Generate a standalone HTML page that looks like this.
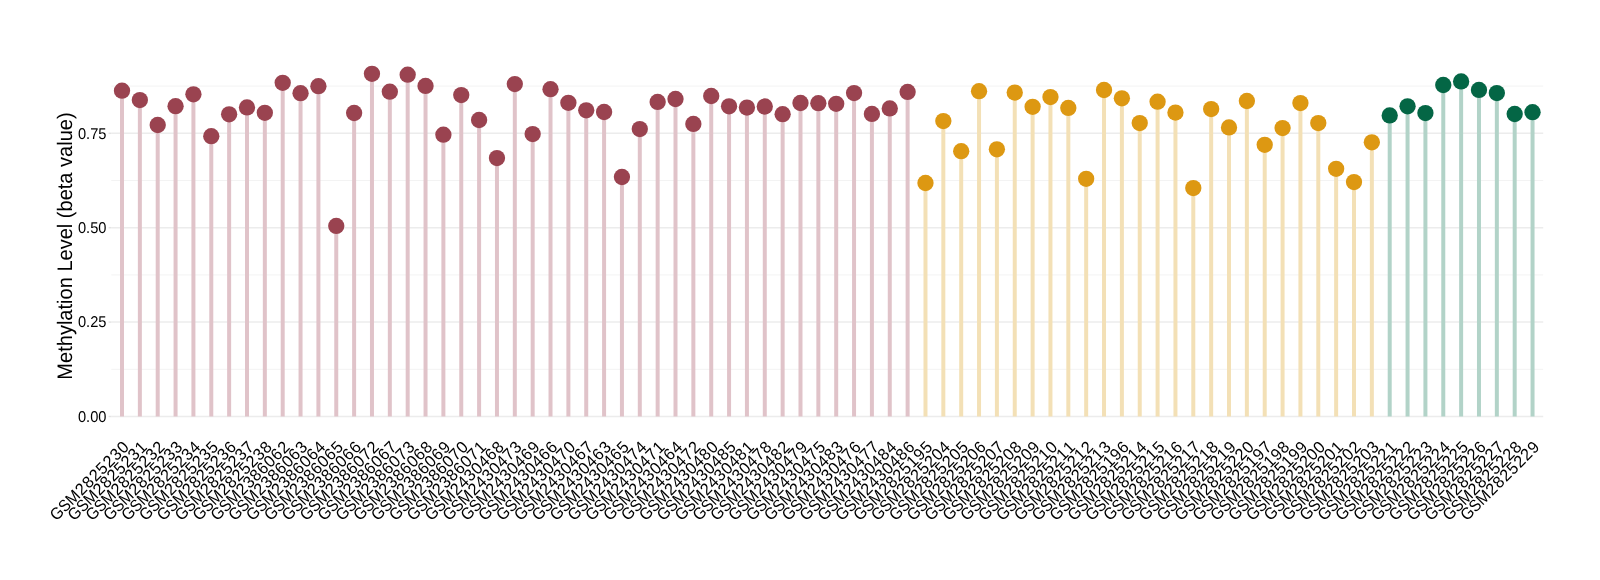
<!DOCTYPE html><html><head><meta charset="utf-8"><style>html,body{margin:0;padding:0;background:#fff;width:1600px;height:580px;overflow:hidden}svg{display:block;will-change:transform}text{font-family:"Liberation Sans",sans-serif;text-rendering:geometricPrecision}</style></head><body>
<svg width="1600" height="580" viewBox="0 0 1600 580">
<rect width="1600" height="580" fill="#fff"/>
<line x1="111.3" x2="1543.2" y1="369.30" y2="369.30" stroke="#f3f3f3" stroke-width="1.0"/>
<line x1="111.3" x2="1543.2" y1="274.90" y2="274.90" stroke="#f3f3f3" stroke-width="1.0"/>
<line x1="111.3" x2="1543.2" y1="180.50" y2="180.50" stroke="#f3f3f3" stroke-width="1.0"/>
<line x1="111.3" x2="1543.2" y1="86.10" y2="86.10" stroke="#f3f3f3" stroke-width="1.0"/>
<line x1="111.3" x2="1543.2" y1="416.50" y2="416.50" stroke="#ececec" stroke-width="1.5"/>
<line x1="108.6" x2="111.3" y1="416.50" y2="416.50" stroke="#e4e4e4" stroke-width="1.5"/>
<text transform="translate(106.5,422.20) scale(0.47,0.5)" font-size="31.2" text-anchor="end" fill="#000">0.00</text>
<line x1="111.3" x2="1543.2" y1="322.10" y2="322.10" stroke="#ececec" stroke-width="1.5"/>
<line x1="108.6" x2="111.3" y1="322.10" y2="322.10" stroke="#e4e4e4" stroke-width="1.5"/>
<text transform="translate(106.5,327.20) scale(0.47,0.5)" font-size="31.2" text-anchor="end" fill="#000">0.25</text>
<line x1="111.3" x2="1543.2" y1="227.70" y2="227.70" stroke="#ececec" stroke-width="1.5"/>
<line x1="108.6" x2="111.3" y1="227.70" y2="227.70" stroke="#e4e4e4" stroke-width="1.5"/>
<text transform="translate(106.5,233.20) scale(0.47,0.5)" font-size="31.2" text-anchor="end" fill="#000">0.50</text>
<line x1="111.3" x2="1543.2" y1="133.30" y2="133.30" stroke="#ececec" stroke-width="1.5"/>
<line x1="108.6" x2="111.3" y1="133.30" y2="133.30" stroke="#e4e4e4" stroke-width="1.5"/>
<text transform="translate(106.5,139.20) scale(0.47,0.5)" font-size="31.2" text-anchor="end" fill="#000">0.75</text>
<line x1="122.00" x2="122.00" y1="416.4" y2="90.70" stroke="#e0c3c9" stroke-width="4.0"/>
<line x1="139.86" x2="139.86" y1="416.4" y2="100.10" stroke="#e0c3c9" stroke-width="4.0"/>
<line x1="157.71" x2="157.71" y1="416.4" y2="125.00" stroke="#e0c3c9" stroke-width="4.0"/>
<line x1="175.57" x2="175.57" y1="416.4" y2="106.20" stroke="#e0c3c9" stroke-width="4.0"/>
<line x1="193.42" x2="193.42" y1="416.4" y2="94.30" stroke="#e0c3c9" stroke-width="4.0"/>
<line x1="211.28" x2="211.28" y1="416.4" y2="136.20" stroke="#e0c3c9" stroke-width="4.0"/>
<line x1="229.13" x2="229.13" y1="416.4" y2="114.30" stroke="#e0c3c9" stroke-width="4.0"/>
<line x1="246.99" x2="246.99" y1="416.4" y2="107.40" stroke="#e0c3c9" stroke-width="4.0"/>
<line x1="264.84" x2="264.84" y1="416.4" y2="112.80" stroke="#e0c3c9" stroke-width="4.0"/>
<line x1="282.70" x2="282.70" y1="416.4" y2="82.80" stroke="#e0c3c9" stroke-width="4.0"/>
<line x1="300.55" x2="300.55" y1="416.4" y2="93.20" stroke="#e0c3c9" stroke-width="4.0"/>
<line x1="318.41" x2="318.41" y1="416.4" y2="86.20" stroke="#e0c3c9" stroke-width="4.0"/>
<line x1="336.26" x2="336.26" y1="416.4" y2="225.90" stroke="#e0c3c9" stroke-width="4.0"/>
<line x1="354.12" x2="354.12" y1="416.4" y2="113.00" stroke="#e0c3c9" stroke-width="4.0"/>
<line x1="371.97" x2="371.97" y1="416.4" y2="73.80" stroke="#e0c3c9" stroke-width="4.0"/>
<line x1="389.83" x2="389.83" y1="416.4" y2="91.70" stroke="#e0c3c9" stroke-width="4.0"/>
<line x1="407.68" x2="407.68" y1="416.4" y2="74.70" stroke="#e0c3c9" stroke-width="4.0"/>
<line x1="425.54" x2="425.54" y1="416.4" y2="85.90" stroke="#e0c3c9" stroke-width="4.0"/>
<line x1="443.39" x2="443.39" y1="416.4" y2="134.70" stroke="#e0c3c9" stroke-width="4.0"/>
<line x1="461.25" x2="461.25" y1="416.4" y2="95.10" stroke="#e0c3c9" stroke-width="4.0"/>
<line x1="479.10" x2="479.10" y1="416.4" y2="120.00" stroke="#e0c3c9" stroke-width="4.0"/>
<line x1="496.96" x2="496.96" y1="416.4" y2="158.10" stroke="#e0c3c9" stroke-width="4.0"/>
<line x1="514.81" x2="514.81" y1="416.4" y2="84.10" stroke="#e0c3c9" stroke-width="4.0"/>
<line x1="532.67" x2="532.67" y1="416.4" y2="134.10" stroke="#e0c3c9" stroke-width="4.0"/>
<line x1="550.52" x2="550.52" y1="416.4" y2="89.20" stroke="#e0c3c9" stroke-width="4.0"/>
<line x1="568.38" x2="568.38" y1="416.4" y2="102.80" stroke="#e0c3c9" stroke-width="4.0"/>
<line x1="586.23" x2="586.23" y1="416.4" y2="110.30" stroke="#e0c3c9" stroke-width="4.0"/>
<line x1="604.09" x2="604.09" y1="416.4" y2="112.00" stroke="#e0c3c9" stroke-width="4.0"/>
<line x1="621.94" x2="621.94" y1="416.4" y2="177.00" stroke="#e0c3c9" stroke-width="4.0"/>
<line x1="639.80" x2="639.80" y1="416.4" y2="129.10" stroke="#e0c3c9" stroke-width="4.0"/>
<line x1="657.65" x2="657.65" y1="416.4" y2="101.90" stroke="#e0c3c9" stroke-width="4.0"/>
<line x1="675.51" x2="675.51" y1="416.4" y2="99.00" stroke="#e0c3c9" stroke-width="4.0"/>
<line x1="693.36" x2="693.36" y1="416.4" y2="123.90" stroke="#e0c3c9" stroke-width="4.0"/>
<line x1="711.22" x2="711.22" y1="416.4" y2="96.00" stroke="#e0c3c9" stroke-width="4.0"/>
<line x1="729.07" x2="729.07" y1="416.4" y2="106.30" stroke="#e0c3c9" stroke-width="4.0"/>
<line x1="746.93" x2="746.93" y1="416.4" y2="107.60" stroke="#e0c3c9" stroke-width="4.0"/>
<line x1="764.78" x2="764.78" y1="416.4" y2="106.50" stroke="#e0c3c9" stroke-width="4.0"/>
<line x1="782.64" x2="782.64" y1="416.4" y2="114.20" stroke="#e0c3c9" stroke-width="4.0"/>
<line x1="800.49" x2="800.49" y1="416.4" y2="103.00" stroke="#e0c3c9" stroke-width="4.0"/>
<line x1="818.35" x2="818.35" y1="416.4" y2="103.20" stroke="#e0c3c9" stroke-width="4.0"/>
<line x1="836.20" x2="836.20" y1="416.4" y2="103.80" stroke="#e0c3c9" stroke-width="4.0"/>
<line x1="854.06" x2="854.06" y1="416.4" y2="93.10" stroke="#e0c3c9" stroke-width="4.0"/>
<line x1="871.91" x2="871.91" y1="416.4" y2="113.90" stroke="#e0c3c9" stroke-width="4.0"/>
<line x1="889.77" x2="889.77" y1="416.4" y2="108.40" stroke="#e0c3c9" stroke-width="4.0"/>
<line x1="907.62" x2="907.62" y1="416.4" y2="91.90" stroke="#e0c3c9" stroke-width="4.0"/>
<line x1="925.48" x2="925.48" y1="416.4" y2="183.00" stroke="#f3e0b6" stroke-width="4.0"/>
<line x1="943.33" x2="943.33" y1="416.4" y2="121.10" stroke="#f3e0b6" stroke-width="4.0"/>
<line x1="961.19" x2="961.19" y1="416.4" y2="151.20" stroke="#f3e0b6" stroke-width="4.0"/>
<line x1="979.04" x2="979.04" y1="416.4" y2="91.20" stroke="#f3e0b6" stroke-width="4.0"/>
<line x1="996.90" x2="996.90" y1="416.4" y2="149.30" stroke="#f3e0b6" stroke-width="4.0"/>
<line x1="1014.75" x2="1014.75" y1="416.4" y2="92.60" stroke="#f3e0b6" stroke-width="4.0"/>
<line x1="1032.61" x2="1032.61" y1="416.4" y2="106.80" stroke="#f3e0b6" stroke-width="4.0"/>
<line x1="1050.46" x2="1050.46" y1="416.4" y2="97.10" stroke="#f3e0b6" stroke-width="4.0"/>
<line x1="1068.32" x2="1068.32" y1="416.4" y2="107.90" stroke="#f3e0b6" stroke-width="4.0"/>
<line x1="1086.17" x2="1086.17" y1="416.4" y2="178.80" stroke="#f3e0b6" stroke-width="4.0"/>
<line x1="1104.03" x2="1104.03" y1="416.4" y2="90.00" stroke="#f3e0b6" stroke-width="4.0"/>
<line x1="1121.88" x2="1121.88" y1="416.4" y2="98.30" stroke="#f3e0b6" stroke-width="4.0"/>
<line x1="1139.74" x2="1139.74" y1="416.4" y2="123.10" stroke="#f3e0b6" stroke-width="4.0"/>
<line x1="1157.59" x2="1157.59" y1="416.4" y2="101.70" stroke="#f3e0b6" stroke-width="4.0"/>
<line x1="1175.45" x2="1175.45" y1="416.4" y2="112.60" stroke="#f3e0b6" stroke-width="4.0"/>
<line x1="1193.30" x2="1193.30" y1="416.4" y2="188.10" stroke="#f3e0b6" stroke-width="4.0"/>
<line x1="1211.16" x2="1211.16" y1="416.4" y2="109.10" stroke="#f3e0b6" stroke-width="4.0"/>
<line x1="1229.01" x2="1229.01" y1="416.4" y2="127.40" stroke="#f3e0b6" stroke-width="4.0"/>
<line x1="1246.87" x2="1246.87" y1="416.4" y2="101.00" stroke="#f3e0b6" stroke-width="4.0"/>
<line x1="1264.72" x2="1264.72" y1="416.4" y2="144.80" stroke="#f3e0b6" stroke-width="4.0"/>
<line x1="1282.58" x2="1282.58" y1="416.4" y2="128.10" stroke="#f3e0b6" stroke-width="4.0"/>
<line x1="1300.43" x2="1300.43" y1="416.4" y2="103.10" stroke="#f3e0b6" stroke-width="4.0"/>
<line x1="1318.29" x2="1318.29" y1="416.4" y2="123.10" stroke="#f3e0b6" stroke-width="4.0"/>
<line x1="1336.14" x2="1336.14" y1="416.4" y2="168.80" stroke="#f3e0b6" stroke-width="4.0"/>
<line x1="1354.00" x2="1354.00" y1="416.4" y2="182.10" stroke="#f3e0b6" stroke-width="4.0"/>
<line x1="1371.85" x2="1371.85" y1="416.4" y2="142.30" stroke="#f3e0b6" stroke-width="4.0"/>
<line x1="1389.71" x2="1389.71" y1="416.4" y2="115.40" stroke="#b2d3c8" stroke-width="4.0"/>
<line x1="1407.56" x2="1407.56" y1="416.4" y2="106.30" stroke="#b2d3c8" stroke-width="4.0"/>
<line x1="1425.42" x2="1425.42" y1="416.4" y2="113.10" stroke="#b2d3c8" stroke-width="4.0"/>
<line x1="1443.27" x2="1443.27" y1="416.4" y2="85.00" stroke="#b2d3c8" stroke-width="4.0"/>
<line x1="1461.13" x2="1461.13" y1="416.4" y2="81.40" stroke="#b2d3c8" stroke-width="4.0"/>
<line x1="1478.98" x2="1478.98" y1="416.4" y2="89.90" stroke="#b2d3c8" stroke-width="4.0"/>
<line x1="1496.84" x2="1496.84" y1="416.4" y2="93.10" stroke="#b2d3c8" stroke-width="4.0"/>
<line x1="1514.69" x2="1514.69" y1="416.4" y2="114.00" stroke="#b2d3c8" stroke-width="4.0"/>
<line x1="1532.55" x2="1532.55" y1="416.4" y2="112.20" stroke="#b2d3c8" stroke-width="4.0"/>
<circle cx="122.00" cy="90.70" r="8.15" fill="#9a4350"/>
<circle cx="139.86" cy="100.10" r="8.15" fill="#9a4350"/>
<circle cx="157.71" cy="125.00" r="8.15" fill="#9a4350"/>
<circle cx="175.57" cy="106.20" r="8.15" fill="#9a4350"/>
<circle cx="193.42" cy="94.30" r="8.15" fill="#9a4350"/>
<circle cx="211.28" cy="136.20" r="8.15" fill="#9a4350"/>
<circle cx="229.13" cy="114.30" r="8.15" fill="#9a4350"/>
<circle cx="246.99" cy="107.40" r="8.15" fill="#9a4350"/>
<circle cx="264.84" cy="112.80" r="8.15" fill="#9a4350"/>
<circle cx="282.70" cy="82.80" r="8.15" fill="#9a4350"/>
<circle cx="300.55" cy="93.20" r="8.15" fill="#9a4350"/>
<circle cx="318.41" cy="86.20" r="8.15" fill="#9a4350"/>
<circle cx="336.26" cy="225.90" r="8.15" fill="#9a4350"/>
<circle cx="354.12" cy="113.00" r="8.15" fill="#9a4350"/>
<circle cx="371.97" cy="73.80" r="8.15" fill="#9a4350"/>
<circle cx="389.83" cy="91.70" r="8.15" fill="#9a4350"/>
<circle cx="407.68" cy="74.70" r="8.15" fill="#9a4350"/>
<circle cx="425.54" cy="85.90" r="8.15" fill="#9a4350"/>
<circle cx="443.39" cy="134.70" r="8.15" fill="#9a4350"/>
<circle cx="461.25" cy="95.10" r="8.15" fill="#9a4350"/>
<circle cx="479.10" cy="120.00" r="8.15" fill="#9a4350"/>
<circle cx="496.96" cy="158.10" r="8.15" fill="#9a4350"/>
<circle cx="514.81" cy="84.10" r="8.15" fill="#9a4350"/>
<circle cx="532.67" cy="134.10" r="8.15" fill="#9a4350"/>
<circle cx="550.52" cy="89.20" r="8.15" fill="#9a4350"/>
<circle cx="568.38" cy="102.80" r="8.15" fill="#9a4350"/>
<circle cx="586.23" cy="110.30" r="8.15" fill="#9a4350"/>
<circle cx="604.09" cy="112.00" r="8.15" fill="#9a4350"/>
<circle cx="621.94" cy="177.00" r="8.15" fill="#9a4350"/>
<circle cx="639.80" cy="129.10" r="8.15" fill="#9a4350"/>
<circle cx="657.65" cy="101.90" r="8.15" fill="#9a4350"/>
<circle cx="675.51" cy="99.00" r="8.15" fill="#9a4350"/>
<circle cx="693.36" cy="123.90" r="8.15" fill="#9a4350"/>
<circle cx="711.22" cy="96.00" r="8.15" fill="#9a4350"/>
<circle cx="729.07" cy="106.30" r="8.15" fill="#9a4350"/>
<circle cx="746.93" cy="107.60" r="8.15" fill="#9a4350"/>
<circle cx="764.78" cy="106.50" r="8.15" fill="#9a4350"/>
<circle cx="782.64" cy="114.20" r="8.15" fill="#9a4350"/>
<circle cx="800.49" cy="103.00" r="8.15" fill="#9a4350"/>
<circle cx="818.35" cy="103.20" r="8.15" fill="#9a4350"/>
<circle cx="836.20" cy="103.80" r="8.15" fill="#9a4350"/>
<circle cx="854.06" cy="93.10" r="8.15" fill="#9a4350"/>
<circle cx="871.91" cy="113.90" r="8.15" fill="#9a4350"/>
<circle cx="889.77" cy="108.40" r="8.15" fill="#9a4350"/>
<circle cx="907.62" cy="91.90" r="8.15" fill="#9a4350"/>
<circle cx="925.48" cy="183.00" r="8.15" fill="#dd9812"/>
<circle cx="943.33" cy="121.10" r="8.15" fill="#dd9812"/>
<circle cx="961.19" cy="151.20" r="8.15" fill="#dd9812"/>
<circle cx="979.04" cy="91.20" r="8.15" fill="#dd9812"/>
<circle cx="996.90" cy="149.30" r="8.15" fill="#dd9812"/>
<circle cx="1014.75" cy="92.60" r="8.15" fill="#dd9812"/>
<circle cx="1032.61" cy="106.80" r="8.15" fill="#dd9812"/>
<circle cx="1050.46" cy="97.10" r="8.15" fill="#dd9812"/>
<circle cx="1068.32" cy="107.90" r="8.15" fill="#dd9812"/>
<circle cx="1086.17" cy="178.80" r="8.15" fill="#dd9812"/>
<circle cx="1104.03" cy="90.00" r="8.15" fill="#dd9812"/>
<circle cx="1121.88" cy="98.30" r="8.15" fill="#dd9812"/>
<circle cx="1139.74" cy="123.10" r="8.15" fill="#dd9812"/>
<circle cx="1157.59" cy="101.70" r="8.15" fill="#dd9812"/>
<circle cx="1175.45" cy="112.60" r="8.15" fill="#dd9812"/>
<circle cx="1193.30" cy="188.10" r="8.15" fill="#dd9812"/>
<circle cx="1211.16" cy="109.10" r="8.15" fill="#dd9812"/>
<circle cx="1229.01" cy="127.40" r="8.15" fill="#dd9812"/>
<circle cx="1246.87" cy="101.00" r="8.15" fill="#dd9812"/>
<circle cx="1264.72" cy="144.80" r="8.15" fill="#dd9812"/>
<circle cx="1282.58" cy="128.10" r="8.15" fill="#dd9812"/>
<circle cx="1300.43" cy="103.10" r="8.15" fill="#dd9812"/>
<circle cx="1318.29" cy="123.10" r="8.15" fill="#dd9812"/>
<circle cx="1336.14" cy="168.80" r="8.15" fill="#dd9812"/>
<circle cx="1354.00" cy="182.10" r="8.15" fill="#dd9812"/>
<circle cx="1371.85" cy="142.30" r="8.15" fill="#dd9812"/>
<circle cx="1389.71" cy="115.40" r="8.15" fill="#046645"/>
<circle cx="1407.56" cy="106.30" r="8.15" fill="#046645"/>
<circle cx="1425.42" cy="113.10" r="8.15" fill="#046645"/>
<circle cx="1443.27" cy="85.00" r="8.15" fill="#046645"/>
<circle cx="1461.13" cy="81.40" r="8.15" fill="#046645"/>
<circle cx="1478.98" cy="89.90" r="8.15" fill="#046645"/>
<circle cx="1496.84" cy="93.10" r="8.15" fill="#046645"/>
<circle cx="1514.69" cy="114.00" r="8.15" fill="#046645"/>
<circle cx="1532.55" cy="112.20" r="8.15" fill="#046645"/>
<g font-size="16.25" fill="#000">
<g transform="translate(122.32,439.82) rotate(-45)"><text transform="translate(-98.48,11.218) scale(0.963,1.021)" x="-6.12">G</text><text transform="translate(-87.28,11.218) scale(0.921,1.021)" x="-5.41">S</text><text transform="translate(-75.75,11.218) scale(0.974,1.021)" x="-6.77">M</text><text transform="translate(-64.13,11.218) scale(1.003,1.021)" x="-4.52">2</text><text transform="translate(-54.27,11.218) scale(1.003,1.021)" x="-4.52">8</text><text transform="translate(-44.41,11.218) scale(1.003,1.021)" x="-4.52">2</text><text transform="translate(-34.55,11.218) scale(1.003,1.021)" x="-4.52">5</text><text transform="translate(-24.69,11.218) scale(1.003,1.021)" x="-4.52">2</text><text transform="translate(-14.83,11.218) scale(1.003,1.021)" x="-4.52">3</text><text transform="translate(-4.97,11.218) scale(1.003,1.021)" x="-4.52">0</text></g>
<g transform="translate(140.18,439.82) rotate(-45)"><text transform="translate(-98.48,11.218) scale(0.963,1.021)" x="-6.12">G</text><text transform="translate(-87.28,11.218) scale(0.921,1.021)" x="-5.41">S</text><text transform="translate(-75.75,11.218) scale(0.974,1.021)" x="-6.77">M</text><text transform="translate(-64.13,11.218) scale(1.003,1.021)" x="-4.52">2</text><text transform="translate(-54.27,11.218) scale(1.003,1.021)" x="-4.52">8</text><text transform="translate(-44.41,11.218) scale(1.003,1.021)" x="-4.52">2</text><text transform="translate(-34.55,11.218) scale(1.003,1.021)" x="-4.52">5</text><text transform="translate(-24.69,11.218) scale(1.003,1.021)" x="-4.52">2</text><text transform="translate(-14.83,11.218) scale(1.003,1.021)" x="-4.52">3</text><text transform="translate(-4.97,11.218) scale(1.003,1.021)" x="-4.52">1</text></g>
<g transform="translate(158.03,439.82) rotate(-45)"><text transform="translate(-98.48,11.218) scale(0.963,1.021)" x="-6.12">G</text><text transform="translate(-87.28,11.218) scale(0.921,1.021)" x="-5.41">S</text><text transform="translate(-75.75,11.218) scale(0.974,1.021)" x="-6.77">M</text><text transform="translate(-64.13,11.218) scale(1.003,1.021)" x="-4.52">2</text><text transform="translate(-54.27,11.218) scale(1.003,1.021)" x="-4.52">8</text><text transform="translate(-44.41,11.218) scale(1.003,1.021)" x="-4.52">2</text><text transform="translate(-34.55,11.218) scale(1.003,1.021)" x="-4.52">5</text><text transform="translate(-24.69,11.218) scale(1.003,1.021)" x="-4.52">2</text><text transform="translate(-14.83,11.218) scale(1.003,1.021)" x="-4.52">3</text><text transform="translate(-4.97,11.218) scale(1.003,1.021)" x="-4.52">2</text></g>
<g transform="translate(175.89,439.82) rotate(-45)"><text transform="translate(-98.48,11.218) scale(0.963,1.021)" x="-6.12">G</text><text transform="translate(-87.28,11.218) scale(0.921,1.021)" x="-5.41">S</text><text transform="translate(-75.75,11.218) scale(0.974,1.021)" x="-6.77">M</text><text transform="translate(-64.13,11.218) scale(1.003,1.021)" x="-4.52">2</text><text transform="translate(-54.27,11.218) scale(1.003,1.021)" x="-4.52">8</text><text transform="translate(-44.41,11.218) scale(1.003,1.021)" x="-4.52">2</text><text transform="translate(-34.55,11.218) scale(1.003,1.021)" x="-4.52">5</text><text transform="translate(-24.69,11.218) scale(1.003,1.021)" x="-4.52">2</text><text transform="translate(-14.83,11.218) scale(1.003,1.021)" x="-4.52">3</text><text transform="translate(-4.97,11.218) scale(1.003,1.021)" x="-4.52">3</text></g>
<g transform="translate(193.74,439.82) rotate(-45)"><text transform="translate(-98.48,11.218) scale(0.963,1.021)" x="-6.12">G</text><text transform="translate(-87.28,11.218) scale(0.921,1.021)" x="-5.41">S</text><text transform="translate(-75.75,11.218) scale(0.974,1.021)" x="-6.77">M</text><text transform="translate(-64.13,11.218) scale(1.003,1.021)" x="-4.52">2</text><text transform="translate(-54.27,11.218) scale(1.003,1.021)" x="-4.52">8</text><text transform="translate(-44.41,11.218) scale(1.003,1.021)" x="-4.52">2</text><text transform="translate(-34.55,11.218) scale(1.003,1.021)" x="-4.52">5</text><text transform="translate(-24.69,11.218) scale(1.003,1.021)" x="-4.52">2</text><text transform="translate(-14.83,11.218) scale(1.003,1.021)" x="-4.52">3</text><text transform="translate(-4.97,11.218) scale(1.003,1.021)" x="-4.52">4</text></g>
<g transform="translate(211.60,439.82) rotate(-45)"><text transform="translate(-98.48,11.218) scale(0.963,1.021)" x="-6.12">G</text><text transform="translate(-87.28,11.218) scale(0.921,1.021)" x="-5.41">S</text><text transform="translate(-75.75,11.218) scale(0.974,1.021)" x="-6.77">M</text><text transform="translate(-64.13,11.218) scale(1.003,1.021)" x="-4.52">2</text><text transform="translate(-54.27,11.218) scale(1.003,1.021)" x="-4.52">8</text><text transform="translate(-44.41,11.218) scale(1.003,1.021)" x="-4.52">2</text><text transform="translate(-34.55,11.218) scale(1.003,1.021)" x="-4.52">5</text><text transform="translate(-24.69,11.218) scale(1.003,1.021)" x="-4.52">2</text><text transform="translate(-14.83,11.218) scale(1.003,1.021)" x="-4.52">3</text><text transform="translate(-4.97,11.218) scale(1.003,1.021)" x="-4.52">5</text></g>
<g transform="translate(229.45,439.82) rotate(-45)"><text transform="translate(-98.48,11.218) scale(0.963,1.021)" x="-6.12">G</text><text transform="translate(-87.28,11.218) scale(0.921,1.021)" x="-5.41">S</text><text transform="translate(-75.75,11.218) scale(0.974,1.021)" x="-6.77">M</text><text transform="translate(-64.13,11.218) scale(1.003,1.021)" x="-4.52">2</text><text transform="translate(-54.27,11.218) scale(1.003,1.021)" x="-4.52">8</text><text transform="translate(-44.41,11.218) scale(1.003,1.021)" x="-4.52">2</text><text transform="translate(-34.55,11.218) scale(1.003,1.021)" x="-4.52">5</text><text transform="translate(-24.69,11.218) scale(1.003,1.021)" x="-4.52">2</text><text transform="translate(-14.83,11.218) scale(1.003,1.021)" x="-4.52">3</text><text transform="translate(-4.97,11.218) scale(1.003,1.021)" x="-4.52">6</text></g>
<g transform="translate(247.31,439.82) rotate(-45)"><text transform="translate(-98.48,11.218) scale(0.963,1.021)" x="-6.12">G</text><text transform="translate(-87.28,11.218) scale(0.921,1.021)" x="-5.41">S</text><text transform="translate(-75.75,11.218) scale(0.974,1.021)" x="-6.77">M</text><text transform="translate(-64.13,11.218) scale(1.003,1.021)" x="-4.52">2</text><text transform="translate(-54.27,11.218) scale(1.003,1.021)" x="-4.52">8</text><text transform="translate(-44.41,11.218) scale(1.003,1.021)" x="-4.52">2</text><text transform="translate(-34.55,11.218) scale(1.003,1.021)" x="-4.52">5</text><text transform="translate(-24.69,11.218) scale(1.003,1.021)" x="-4.52">2</text><text transform="translate(-14.83,11.218) scale(1.003,1.021)" x="-4.52">3</text><text transform="translate(-4.97,11.218) scale(1.003,1.021)" x="-4.52">7</text></g>
<g transform="translate(265.16,439.82) rotate(-45)"><text transform="translate(-98.48,11.218) scale(0.963,1.021)" x="-6.12">G</text><text transform="translate(-87.28,11.218) scale(0.921,1.021)" x="-5.41">S</text><text transform="translate(-75.75,11.218) scale(0.974,1.021)" x="-6.77">M</text><text transform="translate(-64.13,11.218) scale(1.003,1.021)" x="-4.52">2</text><text transform="translate(-54.27,11.218) scale(1.003,1.021)" x="-4.52">8</text><text transform="translate(-44.41,11.218) scale(1.003,1.021)" x="-4.52">2</text><text transform="translate(-34.55,11.218) scale(1.003,1.021)" x="-4.52">5</text><text transform="translate(-24.69,11.218) scale(1.003,1.021)" x="-4.52">2</text><text transform="translate(-14.83,11.218) scale(1.003,1.021)" x="-4.52">3</text><text transform="translate(-4.97,11.218) scale(1.003,1.021)" x="-4.52">8</text></g>
<g transform="translate(283.02,439.82) rotate(-45)"><text transform="translate(-98.48,11.218) scale(0.963,1.021)" x="-6.12">G</text><text transform="translate(-87.28,11.218) scale(0.921,1.021)" x="-5.41">S</text><text transform="translate(-75.75,11.218) scale(0.974,1.021)" x="-6.77">M</text><text transform="translate(-64.13,11.218) scale(1.003,1.021)" x="-4.52">2</text><text transform="translate(-54.27,11.218) scale(1.003,1.021)" x="-4.52">3</text><text transform="translate(-44.41,11.218) scale(1.003,1.021)" x="-4.52">8</text><text transform="translate(-34.55,11.218) scale(1.003,1.021)" x="-4.52">6</text><text transform="translate(-24.69,11.218) scale(1.003,1.021)" x="-4.52">0</text><text transform="translate(-14.83,11.218) scale(1.003,1.021)" x="-4.52">6</text><text transform="translate(-4.97,11.218) scale(1.003,1.021)" x="-4.52">2</text></g>
<g transform="translate(300.87,439.82) rotate(-45)"><text transform="translate(-98.48,11.218) scale(0.963,1.021)" x="-6.12">G</text><text transform="translate(-87.28,11.218) scale(0.921,1.021)" x="-5.41">S</text><text transform="translate(-75.75,11.218) scale(0.974,1.021)" x="-6.77">M</text><text transform="translate(-64.13,11.218) scale(1.003,1.021)" x="-4.52">2</text><text transform="translate(-54.27,11.218) scale(1.003,1.021)" x="-4.52">3</text><text transform="translate(-44.41,11.218) scale(1.003,1.021)" x="-4.52">8</text><text transform="translate(-34.55,11.218) scale(1.003,1.021)" x="-4.52">6</text><text transform="translate(-24.69,11.218) scale(1.003,1.021)" x="-4.52">0</text><text transform="translate(-14.83,11.218) scale(1.003,1.021)" x="-4.52">6</text><text transform="translate(-4.97,11.218) scale(1.003,1.021)" x="-4.52">3</text></g>
<g transform="translate(318.73,439.82) rotate(-45)"><text transform="translate(-98.48,11.218) scale(0.963,1.021)" x="-6.12">G</text><text transform="translate(-87.28,11.218) scale(0.921,1.021)" x="-5.41">S</text><text transform="translate(-75.75,11.218) scale(0.974,1.021)" x="-6.77">M</text><text transform="translate(-64.13,11.218) scale(1.003,1.021)" x="-4.52">2</text><text transform="translate(-54.27,11.218) scale(1.003,1.021)" x="-4.52">3</text><text transform="translate(-44.41,11.218) scale(1.003,1.021)" x="-4.52">8</text><text transform="translate(-34.55,11.218) scale(1.003,1.021)" x="-4.52">6</text><text transform="translate(-24.69,11.218) scale(1.003,1.021)" x="-4.52">0</text><text transform="translate(-14.83,11.218) scale(1.003,1.021)" x="-4.52">6</text><text transform="translate(-4.97,11.218) scale(1.003,1.021)" x="-4.52">4</text></g>
<g transform="translate(336.58,439.82) rotate(-45)"><text transform="translate(-98.48,11.218) scale(0.963,1.021)" x="-6.12">G</text><text transform="translate(-87.28,11.218) scale(0.921,1.021)" x="-5.41">S</text><text transform="translate(-75.75,11.218) scale(0.974,1.021)" x="-6.77">M</text><text transform="translate(-64.13,11.218) scale(1.003,1.021)" x="-4.52">2</text><text transform="translate(-54.27,11.218) scale(1.003,1.021)" x="-4.52">3</text><text transform="translate(-44.41,11.218) scale(1.003,1.021)" x="-4.52">8</text><text transform="translate(-34.55,11.218) scale(1.003,1.021)" x="-4.52">6</text><text transform="translate(-24.69,11.218) scale(1.003,1.021)" x="-4.52">0</text><text transform="translate(-14.83,11.218) scale(1.003,1.021)" x="-4.52">6</text><text transform="translate(-4.97,11.218) scale(1.003,1.021)" x="-4.52">5</text></g>
<g transform="translate(354.44,439.82) rotate(-45)"><text transform="translate(-98.48,11.218) scale(0.963,1.021)" x="-6.12">G</text><text transform="translate(-87.28,11.218) scale(0.921,1.021)" x="-5.41">S</text><text transform="translate(-75.75,11.218) scale(0.974,1.021)" x="-6.77">M</text><text transform="translate(-64.13,11.218) scale(1.003,1.021)" x="-4.52">2</text><text transform="translate(-54.27,11.218) scale(1.003,1.021)" x="-4.52">3</text><text transform="translate(-44.41,11.218) scale(1.003,1.021)" x="-4.52">8</text><text transform="translate(-34.55,11.218) scale(1.003,1.021)" x="-4.52">6</text><text transform="translate(-24.69,11.218) scale(1.003,1.021)" x="-4.52">0</text><text transform="translate(-14.83,11.218) scale(1.003,1.021)" x="-4.52">6</text><text transform="translate(-4.97,11.218) scale(1.003,1.021)" x="-4.52">6</text></g>
<g transform="translate(372.29,439.82) rotate(-45)"><text transform="translate(-98.48,11.218) scale(0.963,1.021)" x="-6.12">G</text><text transform="translate(-87.28,11.218) scale(0.921,1.021)" x="-5.41">S</text><text transform="translate(-75.75,11.218) scale(0.974,1.021)" x="-6.77">M</text><text transform="translate(-64.13,11.218) scale(1.003,1.021)" x="-4.52">2</text><text transform="translate(-54.27,11.218) scale(1.003,1.021)" x="-4.52">3</text><text transform="translate(-44.41,11.218) scale(1.003,1.021)" x="-4.52">8</text><text transform="translate(-34.55,11.218) scale(1.003,1.021)" x="-4.52">6</text><text transform="translate(-24.69,11.218) scale(1.003,1.021)" x="-4.52">0</text><text transform="translate(-14.83,11.218) scale(1.003,1.021)" x="-4.52">7</text><text transform="translate(-4.97,11.218) scale(1.003,1.021)" x="-4.52">2</text></g>
<g transform="translate(390.15,439.82) rotate(-45)"><text transform="translate(-98.48,11.218) scale(0.963,1.021)" x="-6.12">G</text><text transform="translate(-87.28,11.218) scale(0.921,1.021)" x="-5.41">S</text><text transform="translate(-75.75,11.218) scale(0.974,1.021)" x="-6.77">M</text><text transform="translate(-64.13,11.218) scale(1.003,1.021)" x="-4.52">2</text><text transform="translate(-54.27,11.218) scale(1.003,1.021)" x="-4.52">3</text><text transform="translate(-44.41,11.218) scale(1.003,1.021)" x="-4.52">8</text><text transform="translate(-34.55,11.218) scale(1.003,1.021)" x="-4.52">6</text><text transform="translate(-24.69,11.218) scale(1.003,1.021)" x="-4.52">0</text><text transform="translate(-14.83,11.218) scale(1.003,1.021)" x="-4.52">6</text><text transform="translate(-4.97,11.218) scale(1.003,1.021)" x="-4.52">7</text></g>
<g transform="translate(408.00,439.82) rotate(-45)"><text transform="translate(-98.48,11.218) scale(0.963,1.021)" x="-6.12">G</text><text transform="translate(-87.28,11.218) scale(0.921,1.021)" x="-5.41">S</text><text transform="translate(-75.75,11.218) scale(0.974,1.021)" x="-6.77">M</text><text transform="translate(-64.13,11.218) scale(1.003,1.021)" x="-4.52">2</text><text transform="translate(-54.27,11.218) scale(1.003,1.021)" x="-4.52">3</text><text transform="translate(-44.41,11.218) scale(1.003,1.021)" x="-4.52">8</text><text transform="translate(-34.55,11.218) scale(1.003,1.021)" x="-4.52">6</text><text transform="translate(-24.69,11.218) scale(1.003,1.021)" x="-4.52">0</text><text transform="translate(-14.83,11.218) scale(1.003,1.021)" x="-4.52">7</text><text transform="translate(-4.97,11.218) scale(1.003,1.021)" x="-4.52">3</text></g>
<g transform="translate(425.86,439.82) rotate(-45)"><text transform="translate(-98.48,11.218) scale(0.963,1.021)" x="-6.12">G</text><text transform="translate(-87.28,11.218) scale(0.921,1.021)" x="-5.41">S</text><text transform="translate(-75.75,11.218) scale(0.974,1.021)" x="-6.77">M</text><text transform="translate(-64.13,11.218) scale(1.003,1.021)" x="-4.52">2</text><text transform="translate(-54.27,11.218) scale(1.003,1.021)" x="-4.52">3</text><text transform="translate(-44.41,11.218) scale(1.003,1.021)" x="-4.52">8</text><text transform="translate(-34.55,11.218) scale(1.003,1.021)" x="-4.52">6</text><text transform="translate(-24.69,11.218) scale(1.003,1.021)" x="-4.52">0</text><text transform="translate(-14.83,11.218) scale(1.003,1.021)" x="-4.52">6</text><text transform="translate(-4.97,11.218) scale(1.003,1.021)" x="-4.52">8</text></g>
<g transform="translate(443.71,439.82) rotate(-45)"><text transform="translate(-98.48,11.218) scale(0.963,1.021)" x="-6.12">G</text><text transform="translate(-87.28,11.218) scale(0.921,1.021)" x="-5.41">S</text><text transform="translate(-75.75,11.218) scale(0.974,1.021)" x="-6.77">M</text><text transform="translate(-64.13,11.218) scale(1.003,1.021)" x="-4.52">2</text><text transform="translate(-54.27,11.218) scale(1.003,1.021)" x="-4.52">3</text><text transform="translate(-44.41,11.218) scale(1.003,1.021)" x="-4.52">8</text><text transform="translate(-34.55,11.218) scale(1.003,1.021)" x="-4.52">6</text><text transform="translate(-24.69,11.218) scale(1.003,1.021)" x="-4.52">0</text><text transform="translate(-14.83,11.218) scale(1.003,1.021)" x="-4.52">6</text><text transform="translate(-4.97,11.218) scale(1.003,1.021)" x="-4.52">9</text></g>
<g transform="translate(461.57,439.82) rotate(-45)"><text transform="translate(-98.48,11.218) scale(0.963,1.021)" x="-6.12">G</text><text transform="translate(-87.28,11.218) scale(0.921,1.021)" x="-5.41">S</text><text transform="translate(-75.75,11.218) scale(0.974,1.021)" x="-6.77">M</text><text transform="translate(-64.13,11.218) scale(1.003,1.021)" x="-4.52">2</text><text transform="translate(-54.27,11.218) scale(1.003,1.021)" x="-4.52">3</text><text transform="translate(-44.41,11.218) scale(1.003,1.021)" x="-4.52">8</text><text transform="translate(-34.55,11.218) scale(1.003,1.021)" x="-4.52">6</text><text transform="translate(-24.69,11.218) scale(1.003,1.021)" x="-4.52">0</text><text transform="translate(-14.83,11.218) scale(1.003,1.021)" x="-4.52">7</text><text transform="translate(-4.97,11.218) scale(1.003,1.021)" x="-4.52">0</text></g>
<g transform="translate(479.42,439.82) rotate(-45)"><text transform="translate(-98.48,11.218) scale(0.963,1.021)" x="-6.12">G</text><text transform="translate(-87.28,11.218) scale(0.921,1.021)" x="-5.41">S</text><text transform="translate(-75.75,11.218) scale(0.974,1.021)" x="-6.77">M</text><text transform="translate(-64.13,11.218) scale(1.003,1.021)" x="-4.52">2</text><text transform="translate(-54.27,11.218) scale(1.003,1.021)" x="-4.52">3</text><text transform="translate(-44.41,11.218) scale(1.003,1.021)" x="-4.52">8</text><text transform="translate(-34.55,11.218) scale(1.003,1.021)" x="-4.52">6</text><text transform="translate(-24.69,11.218) scale(1.003,1.021)" x="-4.52">0</text><text transform="translate(-14.83,11.218) scale(1.003,1.021)" x="-4.52">7</text><text transform="translate(-4.97,11.218) scale(1.003,1.021)" x="-4.52">1</text></g>
<g transform="translate(497.28,439.82) rotate(-45)"><text transform="translate(-98.48,11.218) scale(0.963,1.021)" x="-6.12">G</text><text transform="translate(-87.28,11.218) scale(0.921,1.021)" x="-5.41">S</text><text transform="translate(-75.75,11.218) scale(0.974,1.021)" x="-6.77">M</text><text transform="translate(-64.13,11.218) scale(1.003,1.021)" x="-4.52">2</text><text transform="translate(-54.27,11.218) scale(1.003,1.021)" x="-4.52">4</text><text transform="translate(-44.41,11.218) scale(1.003,1.021)" x="-4.52">3</text><text transform="translate(-34.55,11.218) scale(1.003,1.021)" x="-4.52">0</text><text transform="translate(-24.69,11.218) scale(1.003,1.021)" x="-4.52">4</text><text transform="translate(-14.83,11.218) scale(1.003,1.021)" x="-4.52">6</text><text transform="translate(-4.97,11.218) scale(1.003,1.021)" x="-4.52">8</text></g>
<g transform="translate(515.13,439.82) rotate(-45)"><text transform="translate(-98.48,11.218) scale(0.963,1.021)" x="-6.12">G</text><text transform="translate(-87.28,11.218) scale(0.921,1.021)" x="-5.41">S</text><text transform="translate(-75.75,11.218) scale(0.974,1.021)" x="-6.77">M</text><text transform="translate(-64.13,11.218) scale(1.003,1.021)" x="-4.52">2</text><text transform="translate(-54.27,11.218) scale(1.003,1.021)" x="-4.52">4</text><text transform="translate(-44.41,11.218) scale(1.003,1.021)" x="-4.52">3</text><text transform="translate(-34.55,11.218) scale(1.003,1.021)" x="-4.52">0</text><text transform="translate(-24.69,11.218) scale(1.003,1.021)" x="-4.52">4</text><text transform="translate(-14.83,11.218) scale(1.003,1.021)" x="-4.52">7</text><text transform="translate(-4.97,11.218) scale(1.003,1.021)" x="-4.52">3</text></g>
<g transform="translate(532.99,439.82) rotate(-45)"><text transform="translate(-98.48,11.218) scale(0.963,1.021)" x="-6.12">G</text><text transform="translate(-87.28,11.218) scale(0.921,1.021)" x="-5.41">S</text><text transform="translate(-75.75,11.218) scale(0.974,1.021)" x="-6.77">M</text><text transform="translate(-64.13,11.218) scale(1.003,1.021)" x="-4.52">2</text><text transform="translate(-54.27,11.218) scale(1.003,1.021)" x="-4.52">4</text><text transform="translate(-44.41,11.218) scale(1.003,1.021)" x="-4.52">3</text><text transform="translate(-34.55,11.218) scale(1.003,1.021)" x="-4.52">0</text><text transform="translate(-24.69,11.218) scale(1.003,1.021)" x="-4.52">4</text><text transform="translate(-14.83,11.218) scale(1.003,1.021)" x="-4.52">6</text><text transform="translate(-4.97,11.218) scale(1.003,1.021)" x="-4.52">9</text></g>
<g transform="translate(550.84,439.82) rotate(-45)"><text transform="translate(-98.48,11.218) scale(0.963,1.021)" x="-6.12">G</text><text transform="translate(-87.28,11.218) scale(0.921,1.021)" x="-5.41">S</text><text transform="translate(-75.75,11.218) scale(0.974,1.021)" x="-6.77">M</text><text transform="translate(-64.13,11.218) scale(1.003,1.021)" x="-4.52">2</text><text transform="translate(-54.27,11.218) scale(1.003,1.021)" x="-4.52">4</text><text transform="translate(-44.41,11.218) scale(1.003,1.021)" x="-4.52">3</text><text transform="translate(-34.55,11.218) scale(1.003,1.021)" x="-4.52">0</text><text transform="translate(-24.69,11.218) scale(1.003,1.021)" x="-4.52">4</text><text transform="translate(-14.83,11.218) scale(1.003,1.021)" x="-4.52">6</text><text transform="translate(-4.97,11.218) scale(1.003,1.021)" x="-4.52">6</text></g>
<g transform="translate(568.70,439.82) rotate(-45)"><text transform="translate(-98.48,11.218) scale(0.963,1.021)" x="-6.12">G</text><text transform="translate(-87.28,11.218) scale(0.921,1.021)" x="-5.41">S</text><text transform="translate(-75.75,11.218) scale(0.974,1.021)" x="-6.77">M</text><text transform="translate(-64.13,11.218) scale(1.003,1.021)" x="-4.52">2</text><text transform="translate(-54.27,11.218) scale(1.003,1.021)" x="-4.52">4</text><text transform="translate(-44.41,11.218) scale(1.003,1.021)" x="-4.52">3</text><text transform="translate(-34.55,11.218) scale(1.003,1.021)" x="-4.52">0</text><text transform="translate(-24.69,11.218) scale(1.003,1.021)" x="-4.52">4</text><text transform="translate(-14.83,11.218) scale(1.003,1.021)" x="-4.52">7</text><text transform="translate(-4.97,11.218) scale(1.003,1.021)" x="-4.52">0</text></g>
<g transform="translate(586.55,439.82) rotate(-45)"><text transform="translate(-98.48,11.218) scale(0.963,1.021)" x="-6.12">G</text><text transform="translate(-87.28,11.218) scale(0.921,1.021)" x="-5.41">S</text><text transform="translate(-75.75,11.218) scale(0.974,1.021)" x="-6.77">M</text><text transform="translate(-64.13,11.218) scale(1.003,1.021)" x="-4.52">2</text><text transform="translate(-54.27,11.218) scale(1.003,1.021)" x="-4.52">4</text><text transform="translate(-44.41,11.218) scale(1.003,1.021)" x="-4.52">3</text><text transform="translate(-34.55,11.218) scale(1.003,1.021)" x="-4.52">0</text><text transform="translate(-24.69,11.218) scale(1.003,1.021)" x="-4.52">4</text><text transform="translate(-14.83,11.218) scale(1.003,1.021)" x="-4.52">6</text><text transform="translate(-4.97,11.218) scale(1.003,1.021)" x="-4.52">7</text></g>
<g transform="translate(604.41,439.82) rotate(-45)"><text transform="translate(-98.48,11.218) scale(0.963,1.021)" x="-6.12">G</text><text transform="translate(-87.28,11.218) scale(0.921,1.021)" x="-5.41">S</text><text transform="translate(-75.75,11.218) scale(0.974,1.021)" x="-6.77">M</text><text transform="translate(-64.13,11.218) scale(1.003,1.021)" x="-4.52">2</text><text transform="translate(-54.27,11.218) scale(1.003,1.021)" x="-4.52">4</text><text transform="translate(-44.41,11.218) scale(1.003,1.021)" x="-4.52">3</text><text transform="translate(-34.55,11.218) scale(1.003,1.021)" x="-4.52">0</text><text transform="translate(-24.69,11.218) scale(1.003,1.021)" x="-4.52">4</text><text transform="translate(-14.83,11.218) scale(1.003,1.021)" x="-4.52">6</text><text transform="translate(-4.97,11.218) scale(1.003,1.021)" x="-4.52">3</text></g>
<g transform="translate(622.26,439.82) rotate(-45)"><text transform="translate(-98.48,11.218) scale(0.963,1.021)" x="-6.12">G</text><text transform="translate(-87.28,11.218) scale(0.921,1.021)" x="-5.41">S</text><text transform="translate(-75.75,11.218) scale(0.974,1.021)" x="-6.77">M</text><text transform="translate(-64.13,11.218) scale(1.003,1.021)" x="-4.52">2</text><text transform="translate(-54.27,11.218) scale(1.003,1.021)" x="-4.52">4</text><text transform="translate(-44.41,11.218) scale(1.003,1.021)" x="-4.52">3</text><text transform="translate(-34.55,11.218) scale(1.003,1.021)" x="-4.52">0</text><text transform="translate(-24.69,11.218) scale(1.003,1.021)" x="-4.52">4</text><text transform="translate(-14.83,11.218) scale(1.003,1.021)" x="-4.52">6</text><text transform="translate(-4.97,11.218) scale(1.003,1.021)" x="-4.52">5</text></g>
<g transform="translate(640.12,439.82) rotate(-45)"><text transform="translate(-98.48,11.218) scale(0.963,1.021)" x="-6.12">G</text><text transform="translate(-87.28,11.218) scale(0.921,1.021)" x="-5.41">S</text><text transform="translate(-75.75,11.218) scale(0.974,1.021)" x="-6.77">M</text><text transform="translate(-64.13,11.218) scale(1.003,1.021)" x="-4.52">2</text><text transform="translate(-54.27,11.218) scale(1.003,1.021)" x="-4.52">4</text><text transform="translate(-44.41,11.218) scale(1.003,1.021)" x="-4.52">3</text><text transform="translate(-34.55,11.218) scale(1.003,1.021)" x="-4.52">0</text><text transform="translate(-24.69,11.218) scale(1.003,1.021)" x="-4.52">4</text><text transform="translate(-14.83,11.218) scale(1.003,1.021)" x="-4.52">7</text><text transform="translate(-4.97,11.218) scale(1.003,1.021)" x="-4.52">4</text></g>
<g transform="translate(657.97,439.82) rotate(-45)"><text transform="translate(-98.48,11.218) scale(0.963,1.021)" x="-6.12">G</text><text transform="translate(-87.28,11.218) scale(0.921,1.021)" x="-5.41">S</text><text transform="translate(-75.75,11.218) scale(0.974,1.021)" x="-6.77">M</text><text transform="translate(-64.13,11.218) scale(1.003,1.021)" x="-4.52">2</text><text transform="translate(-54.27,11.218) scale(1.003,1.021)" x="-4.52">4</text><text transform="translate(-44.41,11.218) scale(1.003,1.021)" x="-4.52">3</text><text transform="translate(-34.55,11.218) scale(1.003,1.021)" x="-4.52">0</text><text transform="translate(-24.69,11.218) scale(1.003,1.021)" x="-4.52">4</text><text transform="translate(-14.83,11.218) scale(1.003,1.021)" x="-4.52">7</text><text transform="translate(-4.97,11.218) scale(1.003,1.021)" x="-4.52">1</text></g>
<g transform="translate(675.83,439.82) rotate(-45)"><text transform="translate(-98.48,11.218) scale(0.963,1.021)" x="-6.12">G</text><text transform="translate(-87.28,11.218) scale(0.921,1.021)" x="-5.41">S</text><text transform="translate(-75.75,11.218) scale(0.974,1.021)" x="-6.77">M</text><text transform="translate(-64.13,11.218) scale(1.003,1.021)" x="-4.52">2</text><text transform="translate(-54.27,11.218) scale(1.003,1.021)" x="-4.52">4</text><text transform="translate(-44.41,11.218) scale(1.003,1.021)" x="-4.52">3</text><text transform="translate(-34.55,11.218) scale(1.003,1.021)" x="-4.52">0</text><text transform="translate(-24.69,11.218) scale(1.003,1.021)" x="-4.52">4</text><text transform="translate(-14.83,11.218) scale(1.003,1.021)" x="-4.52">6</text><text transform="translate(-4.97,11.218) scale(1.003,1.021)" x="-4.52">4</text></g>
<g transform="translate(693.68,439.82) rotate(-45)"><text transform="translate(-98.48,11.218) scale(0.963,1.021)" x="-6.12">G</text><text transform="translate(-87.28,11.218) scale(0.921,1.021)" x="-5.41">S</text><text transform="translate(-75.75,11.218) scale(0.974,1.021)" x="-6.77">M</text><text transform="translate(-64.13,11.218) scale(1.003,1.021)" x="-4.52">2</text><text transform="translate(-54.27,11.218) scale(1.003,1.021)" x="-4.52">4</text><text transform="translate(-44.41,11.218) scale(1.003,1.021)" x="-4.52">3</text><text transform="translate(-34.55,11.218) scale(1.003,1.021)" x="-4.52">0</text><text transform="translate(-24.69,11.218) scale(1.003,1.021)" x="-4.52">4</text><text transform="translate(-14.83,11.218) scale(1.003,1.021)" x="-4.52">7</text><text transform="translate(-4.97,11.218) scale(1.003,1.021)" x="-4.52">2</text></g>
<g transform="translate(711.54,439.82) rotate(-45)"><text transform="translate(-98.48,11.218) scale(0.963,1.021)" x="-6.12">G</text><text transform="translate(-87.28,11.218) scale(0.921,1.021)" x="-5.41">S</text><text transform="translate(-75.75,11.218) scale(0.974,1.021)" x="-6.77">M</text><text transform="translate(-64.13,11.218) scale(1.003,1.021)" x="-4.52">2</text><text transform="translate(-54.27,11.218) scale(1.003,1.021)" x="-4.52">4</text><text transform="translate(-44.41,11.218) scale(1.003,1.021)" x="-4.52">3</text><text transform="translate(-34.55,11.218) scale(1.003,1.021)" x="-4.52">0</text><text transform="translate(-24.69,11.218) scale(1.003,1.021)" x="-4.52">4</text><text transform="translate(-14.83,11.218) scale(1.003,1.021)" x="-4.52">8</text><text transform="translate(-4.97,11.218) scale(1.003,1.021)" x="-4.52">0</text></g>
<g transform="translate(729.39,439.82) rotate(-45)"><text transform="translate(-98.48,11.218) scale(0.963,1.021)" x="-6.12">G</text><text transform="translate(-87.28,11.218) scale(0.921,1.021)" x="-5.41">S</text><text transform="translate(-75.75,11.218) scale(0.974,1.021)" x="-6.77">M</text><text transform="translate(-64.13,11.218) scale(1.003,1.021)" x="-4.52">2</text><text transform="translate(-54.27,11.218) scale(1.003,1.021)" x="-4.52">4</text><text transform="translate(-44.41,11.218) scale(1.003,1.021)" x="-4.52">3</text><text transform="translate(-34.55,11.218) scale(1.003,1.021)" x="-4.52">0</text><text transform="translate(-24.69,11.218) scale(1.003,1.021)" x="-4.52">4</text><text transform="translate(-14.83,11.218) scale(1.003,1.021)" x="-4.52">8</text><text transform="translate(-4.97,11.218) scale(1.003,1.021)" x="-4.52">5</text></g>
<g transform="translate(747.25,439.82) rotate(-45)"><text transform="translate(-98.48,11.218) scale(0.963,1.021)" x="-6.12">G</text><text transform="translate(-87.28,11.218) scale(0.921,1.021)" x="-5.41">S</text><text transform="translate(-75.75,11.218) scale(0.974,1.021)" x="-6.77">M</text><text transform="translate(-64.13,11.218) scale(1.003,1.021)" x="-4.52">2</text><text transform="translate(-54.27,11.218) scale(1.003,1.021)" x="-4.52">4</text><text transform="translate(-44.41,11.218) scale(1.003,1.021)" x="-4.52">3</text><text transform="translate(-34.55,11.218) scale(1.003,1.021)" x="-4.52">0</text><text transform="translate(-24.69,11.218) scale(1.003,1.021)" x="-4.52">4</text><text transform="translate(-14.83,11.218) scale(1.003,1.021)" x="-4.52">8</text><text transform="translate(-4.97,11.218) scale(1.003,1.021)" x="-4.52">1</text></g>
<g transform="translate(765.10,439.82) rotate(-45)"><text transform="translate(-98.48,11.218) scale(0.963,1.021)" x="-6.12">G</text><text transform="translate(-87.28,11.218) scale(0.921,1.021)" x="-5.41">S</text><text transform="translate(-75.75,11.218) scale(0.974,1.021)" x="-6.77">M</text><text transform="translate(-64.13,11.218) scale(1.003,1.021)" x="-4.52">2</text><text transform="translate(-54.27,11.218) scale(1.003,1.021)" x="-4.52">4</text><text transform="translate(-44.41,11.218) scale(1.003,1.021)" x="-4.52">3</text><text transform="translate(-34.55,11.218) scale(1.003,1.021)" x="-4.52">0</text><text transform="translate(-24.69,11.218) scale(1.003,1.021)" x="-4.52">4</text><text transform="translate(-14.83,11.218) scale(1.003,1.021)" x="-4.52">7</text><text transform="translate(-4.97,11.218) scale(1.003,1.021)" x="-4.52">8</text></g>
<g transform="translate(782.96,439.82) rotate(-45)"><text transform="translate(-98.48,11.218) scale(0.963,1.021)" x="-6.12">G</text><text transform="translate(-87.28,11.218) scale(0.921,1.021)" x="-5.41">S</text><text transform="translate(-75.75,11.218) scale(0.974,1.021)" x="-6.77">M</text><text transform="translate(-64.13,11.218) scale(1.003,1.021)" x="-4.52">2</text><text transform="translate(-54.27,11.218) scale(1.003,1.021)" x="-4.52">4</text><text transform="translate(-44.41,11.218) scale(1.003,1.021)" x="-4.52">3</text><text transform="translate(-34.55,11.218) scale(1.003,1.021)" x="-4.52">0</text><text transform="translate(-24.69,11.218) scale(1.003,1.021)" x="-4.52">4</text><text transform="translate(-14.83,11.218) scale(1.003,1.021)" x="-4.52">8</text><text transform="translate(-4.97,11.218) scale(1.003,1.021)" x="-4.52">2</text></g>
<g transform="translate(800.81,439.82) rotate(-45)"><text transform="translate(-98.48,11.218) scale(0.963,1.021)" x="-6.12">G</text><text transform="translate(-87.28,11.218) scale(0.921,1.021)" x="-5.41">S</text><text transform="translate(-75.75,11.218) scale(0.974,1.021)" x="-6.77">M</text><text transform="translate(-64.13,11.218) scale(1.003,1.021)" x="-4.52">2</text><text transform="translate(-54.27,11.218) scale(1.003,1.021)" x="-4.52">4</text><text transform="translate(-44.41,11.218) scale(1.003,1.021)" x="-4.52">3</text><text transform="translate(-34.55,11.218) scale(1.003,1.021)" x="-4.52">0</text><text transform="translate(-24.69,11.218) scale(1.003,1.021)" x="-4.52">4</text><text transform="translate(-14.83,11.218) scale(1.003,1.021)" x="-4.52">7</text><text transform="translate(-4.97,11.218) scale(1.003,1.021)" x="-4.52">9</text></g>
<g transform="translate(818.67,439.82) rotate(-45)"><text transform="translate(-98.48,11.218) scale(0.963,1.021)" x="-6.12">G</text><text transform="translate(-87.28,11.218) scale(0.921,1.021)" x="-5.41">S</text><text transform="translate(-75.75,11.218) scale(0.974,1.021)" x="-6.77">M</text><text transform="translate(-64.13,11.218) scale(1.003,1.021)" x="-4.52">2</text><text transform="translate(-54.27,11.218) scale(1.003,1.021)" x="-4.52">4</text><text transform="translate(-44.41,11.218) scale(1.003,1.021)" x="-4.52">3</text><text transform="translate(-34.55,11.218) scale(1.003,1.021)" x="-4.52">0</text><text transform="translate(-24.69,11.218) scale(1.003,1.021)" x="-4.52">4</text><text transform="translate(-14.83,11.218) scale(1.003,1.021)" x="-4.52">7</text><text transform="translate(-4.97,11.218) scale(1.003,1.021)" x="-4.52">5</text></g>
<g transform="translate(836.52,439.82) rotate(-45)"><text transform="translate(-98.48,11.218) scale(0.963,1.021)" x="-6.12">G</text><text transform="translate(-87.28,11.218) scale(0.921,1.021)" x="-5.41">S</text><text transform="translate(-75.75,11.218) scale(0.974,1.021)" x="-6.77">M</text><text transform="translate(-64.13,11.218) scale(1.003,1.021)" x="-4.52">2</text><text transform="translate(-54.27,11.218) scale(1.003,1.021)" x="-4.52">4</text><text transform="translate(-44.41,11.218) scale(1.003,1.021)" x="-4.52">3</text><text transform="translate(-34.55,11.218) scale(1.003,1.021)" x="-4.52">0</text><text transform="translate(-24.69,11.218) scale(1.003,1.021)" x="-4.52">4</text><text transform="translate(-14.83,11.218) scale(1.003,1.021)" x="-4.52">8</text><text transform="translate(-4.97,11.218) scale(1.003,1.021)" x="-4.52">3</text></g>
<g transform="translate(854.38,439.82) rotate(-45)"><text transform="translate(-98.48,11.218) scale(0.963,1.021)" x="-6.12">G</text><text transform="translate(-87.28,11.218) scale(0.921,1.021)" x="-5.41">S</text><text transform="translate(-75.75,11.218) scale(0.974,1.021)" x="-6.77">M</text><text transform="translate(-64.13,11.218) scale(1.003,1.021)" x="-4.52">2</text><text transform="translate(-54.27,11.218) scale(1.003,1.021)" x="-4.52">4</text><text transform="translate(-44.41,11.218) scale(1.003,1.021)" x="-4.52">3</text><text transform="translate(-34.55,11.218) scale(1.003,1.021)" x="-4.52">0</text><text transform="translate(-24.69,11.218) scale(1.003,1.021)" x="-4.52">4</text><text transform="translate(-14.83,11.218) scale(1.003,1.021)" x="-4.52">7</text><text transform="translate(-4.97,11.218) scale(1.003,1.021)" x="-4.52">6</text></g>
<g transform="translate(872.23,439.82) rotate(-45)"><text transform="translate(-98.48,11.218) scale(0.963,1.021)" x="-6.12">G</text><text transform="translate(-87.28,11.218) scale(0.921,1.021)" x="-5.41">S</text><text transform="translate(-75.75,11.218) scale(0.974,1.021)" x="-6.77">M</text><text transform="translate(-64.13,11.218) scale(1.003,1.021)" x="-4.52">2</text><text transform="translate(-54.27,11.218) scale(1.003,1.021)" x="-4.52">4</text><text transform="translate(-44.41,11.218) scale(1.003,1.021)" x="-4.52">3</text><text transform="translate(-34.55,11.218) scale(1.003,1.021)" x="-4.52">0</text><text transform="translate(-24.69,11.218) scale(1.003,1.021)" x="-4.52">4</text><text transform="translate(-14.83,11.218) scale(1.003,1.021)" x="-4.52">7</text><text transform="translate(-4.97,11.218) scale(1.003,1.021)" x="-4.52">7</text></g>
<g transform="translate(890.09,439.82) rotate(-45)"><text transform="translate(-98.48,11.218) scale(0.963,1.021)" x="-6.12">G</text><text transform="translate(-87.28,11.218) scale(0.921,1.021)" x="-5.41">S</text><text transform="translate(-75.75,11.218) scale(0.974,1.021)" x="-6.77">M</text><text transform="translate(-64.13,11.218) scale(1.003,1.021)" x="-4.52">2</text><text transform="translate(-54.27,11.218) scale(1.003,1.021)" x="-4.52">4</text><text transform="translate(-44.41,11.218) scale(1.003,1.021)" x="-4.52">3</text><text transform="translate(-34.55,11.218) scale(1.003,1.021)" x="-4.52">0</text><text transform="translate(-24.69,11.218) scale(1.003,1.021)" x="-4.52">4</text><text transform="translate(-14.83,11.218) scale(1.003,1.021)" x="-4.52">8</text><text transform="translate(-4.97,11.218) scale(1.003,1.021)" x="-4.52">4</text></g>
<g transform="translate(907.94,439.82) rotate(-45)"><text transform="translate(-98.48,11.218) scale(0.963,1.021)" x="-6.12">G</text><text transform="translate(-87.28,11.218) scale(0.921,1.021)" x="-5.41">S</text><text transform="translate(-75.75,11.218) scale(0.974,1.021)" x="-6.77">M</text><text transform="translate(-64.13,11.218) scale(1.003,1.021)" x="-4.52">2</text><text transform="translate(-54.27,11.218) scale(1.003,1.021)" x="-4.52">4</text><text transform="translate(-44.41,11.218) scale(1.003,1.021)" x="-4.52">3</text><text transform="translate(-34.55,11.218) scale(1.003,1.021)" x="-4.52">0</text><text transform="translate(-24.69,11.218) scale(1.003,1.021)" x="-4.52">4</text><text transform="translate(-14.83,11.218) scale(1.003,1.021)" x="-4.52">8</text><text transform="translate(-4.97,11.218) scale(1.003,1.021)" x="-4.52">6</text></g>
<g transform="translate(925.80,439.82) rotate(-45)"><text transform="translate(-98.48,11.218) scale(0.963,1.021)" x="-6.12">G</text><text transform="translate(-87.28,11.218) scale(0.921,1.021)" x="-5.41">S</text><text transform="translate(-75.75,11.218) scale(0.974,1.021)" x="-6.77">M</text><text transform="translate(-64.13,11.218) scale(1.003,1.021)" x="-4.52">2</text><text transform="translate(-54.27,11.218) scale(1.003,1.021)" x="-4.52">8</text><text transform="translate(-44.41,11.218) scale(1.003,1.021)" x="-4.52">2</text><text transform="translate(-34.55,11.218) scale(1.003,1.021)" x="-4.52">5</text><text transform="translate(-24.69,11.218) scale(1.003,1.021)" x="-4.52">1</text><text transform="translate(-14.83,11.218) scale(1.003,1.021)" x="-4.52">9</text><text transform="translate(-4.97,11.218) scale(1.003,1.021)" x="-4.52">5</text></g>
<g transform="translate(943.65,439.82) rotate(-45)"><text transform="translate(-98.48,11.218) scale(0.963,1.021)" x="-6.12">G</text><text transform="translate(-87.28,11.218) scale(0.921,1.021)" x="-5.41">S</text><text transform="translate(-75.75,11.218) scale(0.974,1.021)" x="-6.77">M</text><text transform="translate(-64.13,11.218) scale(1.003,1.021)" x="-4.52">2</text><text transform="translate(-54.27,11.218) scale(1.003,1.021)" x="-4.52">8</text><text transform="translate(-44.41,11.218) scale(1.003,1.021)" x="-4.52">2</text><text transform="translate(-34.55,11.218) scale(1.003,1.021)" x="-4.52">5</text><text transform="translate(-24.69,11.218) scale(1.003,1.021)" x="-4.52">2</text><text transform="translate(-14.83,11.218) scale(1.003,1.021)" x="-4.52">0</text><text transform="translate(-4.97,11.218) scale(1.003,1.021)" x="-4.52">4</text></g>
<g transform="translate(961.51,439.82) rotate(-45)"><text transform="translate(-98.48,11.218) scale(0.963,1.021)" x="-6.12">G</text><text transform="translate(-87.28,11.218) scale(0.921,1.021)" x="-5.41">S</text><text transform="translate(-75.75,11.218) scale(0.974,1.021)" x="-6.77">M</text><text transform="translate(-64.13,11.218) scale(1.003,1.021)" x="-4.52">2</text><text transform="translate(-54.27,11.218) scale(1.003,1.021)" x="-4.52">8</text><text transform="translate(-44.41,11.218) scale(1.003,1.021)" x="-4.52">2</text><text transform="translate(-34.55,11.218) scale(1.003,1.021)" x="-4.52">5</text><text transform="translate(-24.69,11.218) scale(1.003,1.021)" x="-4.52">2</text><text transform="translate(-14.83,11.218) scale(1.003,1.021)" x="-4.52">0</text><text transform="translate(-4.97,11.218) scale(1.003,1.021)" x="-4.52">5</text></g>
<g transform="translate(979.36,439.82) rotate(-45)"><text transform="translate(-98.48,11.218) scale(0.963,1.021)" x="-6.12">G</text><text transform="translate(-87.28,11.218) scale(0.921,1.021)" x="-5.41">S</text><text transform="translate(-75.75,11.218) scale(0.974,1.021)" x="-6.77">M</text><text transform="translate(-64.13,11.218) scale(1.003,1.021)" x="-4.52">2</text><text transform="translate(-54.27,11.218) scale(1.003,1.021)" x="-4.52">8</text><text transform="translate(-44.41,11.218) scale(1.003,1.021)" x="-4.52">2</text><text transform="translate(-34.55,11.218) scale(1.003,1.021)" x="-4.52">5</text><text transform="translate(-24.69,11.218) scale(1.003,1.021)" x="-4.52">2</text><text transform="translate(-14.83,11.218) scale(1.003,1.021)" x="-4.52">0</text><text transform="translate(-4.97,11.218) scale(1.003,1.021)" x="-4.52">6</text></g>
<g transform="translate(997.22,439.82) rotate(-45)"><text transform="translate(-98.48,11.218) scale(0.963,1.021)" x="-6.12">G</text><text transform="translate(-87.28,11.218) scale(0.921,1.021)" x="-5.41">S</text><text transform="translate(-75.75,11.218) scale(0.974,1.021)" x="-6.77">M</text><text transform="translate(-64.13,11.218) scale(1.003,1.021)" x="-4.52">2</text><text transform="translate(-54.27,11.218) scale(1.003,1.021)" x="-4.52">8</text><text transform="translate(-44.41,11.218) scale(1.003,1.021)" x="-4.52">2</text><text transform="translate(-34.55,11.218) scale(1.003,1.021)" x="-4.52">5</text><text transform="translate(-24.69,11.218) scale(1.003,1.021)" x="-4.52">2</text><text transform="translate(-14.83,11.218) scale(1.003,1.021)" x="-4.52">0</text><text transform="translate(-4.97,11.218) scale(1.003,1.021)" x="-4.52">7</text></g>
<g transform="translate(1015.07,439.82) rotate(-45)"><text transform="translate(-98.48,11.218) scale(0.963,1.021)" x="-6.12">G</text><text transform="translate(-87.28,11.218) scale(0.921,1.021)" x="-5.41">S</text><text transform="translate(-75.75,11.218) scale(0.974,1.021)" x="-6.77">M</text><text transform="translate(-64.13,11.218) scale(1.003,1.021)" x="-4.52">2</text><text transform="translate(-54.27,11.218) scale(1.003,1.021)" x="-4.52">8</text><text transform="translate(-44.41,11.218) scale(1.003,1.021)" x="-4.52">2</text><text transform="translate(-34.55,11.218) scale(1.003,1.021)" x="-4.52">5</text><text transform="translate(-24.69,11.218) scale(1.003,1.021)" x="-4.52">2</text><text transform="translate(-14.83,11.218) scale(1.003,1.021)" x="-4.52">0</text><text transform="translate(-4.97,11.218) scale(1.003,1.021)" x="-4.52">8</text></g>
<g transform="translate(1032.93,439.82) rotate(-45)"><text transform="translate(-98.48,11.218) scale(0.963,1.021)" x="-6.12">G</text><text transform="translate(-87.28,11.218) scale(0.921,1.021)" x="-5.41">S</text><text transform="translate(-75.75,11.218) scale(0.974,1.021)" x="-6.77">M</text><text transform="translate(-64.13,11.218) scale(1.003,1.021)" x="-4.52">2</text><text transform="translate(-54.27,11.218) scale(1.003,1.021)" x="-4.52">8</text><text transform="translate(-44.41,11.218) scale(1.003,1.021)" x="-4.52">2</text><text transform="translate(-34.55,11.218) scale(1.003,1.021)" x="-4.52">5</text><text transform="translate(-24.69,11.218) scale(1.003,1.021)" x="-4.52">2</text><text transform="translate(-14.83,11.218) scale(1.003,1.021)" x="-4.52">0</text><text transform="translate(-4.97,11.218) scale(1.003,1.021)" x="-4.52">9</text></g>
<g transform="translate(1050.78,439.82) rotate(-45)"><text transform="translate(-98.48,11.218) scale(0.963,1.021)" x="-6.12">G</text><text transform="translate(-87.28,11.218) scale(0.921,1.021)" x="-5.41">S</text><text transform="translate(-75.75,11.218) scale(0.974,1.021)" x="-6.77">M</text><text transform="translate(-64.13,11.218) scale(1.003,1.021)" x="-4.52">2</text><text transform="translate(-54.27,11.218) scale(1.003,1.021)" x="-4.52">8</text><text transform="translate(-44.41,11.218) scale(1.003,1.021)" x="-4.52">2</text><text transform="translate(-34.55,11.218) scale(1.003,1.021)" x="-4.52">5</text><text transform="translate(-24.69,11.218) scale(1.003,1.021)" x="-4.52">2</text><text transform="translate(-14.83,11.218) scale(1.003,1.021)" x="-4.52">1</text><text transform="translate(-4.97,11.218) scale(1.003,1.021)" x="-4.52">0</text></g>
<g transform="translate(1068.64,439.82) rotate(-45)"><text transform="translate(-98.48,11.218) scale(0.963,1.021)" x="-6.12">G</text><text transform="translate(-87.28,11.218) scale(0.921,1.021)" x="-5.41">S</text><text transform="translate(-75.75,11.218) scale(0.974,1.021)" x="-6.77">M</text><text transform="translate(-64.13,11.218) scale(1.003,1.021)" x="-4.52">2</text><text transform="translate(-54.27,11.218) scale(1.003,1.021)" x="-4.52">8</text><text transform="translate(-44.41,11.218) scale(1.003,1.021)" x="-4.52">2</text><text transform="translate(-34.55,11.218) scale(1.003,1.021)" x="-4.52">5</text><text transform="translate(-24.69,11.218) scale(1.003,1.021)" x="-4.52">2</text><text transform="translate(-14.83,11.218) scale(1.003,1.021)" x="-4.52">1</text><text transform="translate(-4.97,11.218) scale(1.003,1.021)" x="-4.52">1</text></g>
<g transform="translate(1086.49,439.82) rotate(-45)"><text transform="translate(-98.48,11.218) scale(0.963,1.021)" x="-6.12">G</text><text transform="translate(-87.28,11.218) scale(0.921,1.021)" x="-5.41">S</text><text transform="translate(-75.75,11.218) scale(0.974,1.021)" x="-6.77">M</text><text transform="translate(-64.13,11.218) scale(1.003,1.021)" x="-4.52">2</text><text transform="translate(-54.27,11.218) scale(1.003,1.021)" x="-4.52">8</text><text transform="translate(-44.41,11.218) scale(1.003,1.021)" x="-4.52">2</text><text transform="translate(-34.55,11.218) scale(1.003,1.021)" x="-4.52">5</text><text transform="translate(-24.69,11.218) scale(1.003,1.021)" x="-4.52">2</text><text transform="translate(-14.83,11.218) scale(1.003,1.021)" x="-4.52">1</text><text transform="translate(-4.97,11.218) scale(1.003,1.021)" x="-4.52">2</text></g>
<g transform="translate(1104.35,439.82) rotate(-45)"><text transform="translate(-98.48,11.218) scale(0.963,1.021)" x="-6.12">G</text><text transform="translate(-87.28,11.218) scale(0.921,1.021)" x="-5.41">S</text><text transform="translate(-75.75,11.218) scale(0.974,1.021)" x="-6.77">M</text><text transform="translate(-64.13,11.218) scale(1.003,1.021)" x="-4.52">2</text><text transform="translate(-54.27,11.218) scale(1.003,1.021)" x="-4.52">8</text><text transform="translate(-44.41,11.218) scale(1.003,1.021)" x="-4.52">2</text><text transform="translate(-34.55,11.218) scale(1.003,1.021)" x="-4.52">5</text><text transform="translate(-24.69,11.218) scale(1.003,1.021)" x="-4.52">2</text><text transform="translate(-14.83,11.218) scale(1.003,1.021)" x="-4.52">1</text><text transform="translate(-4.97,11.218) scale(1.003,1.021)" x="-4.52">3</text></g>
<g transform="translate(1122.20,439.82) rotate(-45)"><text transform="translate(-98.48,11.218) scale(0.963,1.021)" x="-6.12">G</text><text transform="translate(-87.28,11.218) scale(0.921,1.021)" x="-5.41">S</text><text transform="translate(-75.75,11.218) scale(0.974,1.021)" x="-6.77">M</text><text transform="translate(-64.13,11.218) scale(1.003,1.021)" x="-4.52">2</text><text transform="translate(-54.27,11.218) scale(1.003,1.021)" x="-4.52">8</text><text transform="translate(-44.41,11.218) scale(1.003,1.021)" x="-4.52">2</text><text transform="translate(-34.55,11.218) scale(1.003,1.021)" x="-4.52">5</text><text transform="translate(-24.69,11.218) scale(1.003,1.021)" x="-4.52">1</text><text transform="translate(-14.83,11.218) scale(1.003,1.021)" x="-4.52">9</text><text transform="translate(-4.97,11.218) scale(1.003,1.021)" x="-4.52">6</text></g>
<g transform="translate(1140.06,439.82) rotate(-45)"><text transform="translate(-98.48,11.218) scale(0.963,1.021)" x="-6.12">G</text><text transform="translate(-87.28,11.218) scale(0.921,1.021)" x="-5.41">S</text><text transform="translate(-75.75,11.218) scale(0.974,1.021)" x="-6.77">M</text><text transform="translate(-64.13,11.218) scale(1.003,1.021)" x="-4.52">2</text><text transform="translate(-54.27,11.218) scale(1.003,1.021)" x="-4.52">8</text><text transform="translate(-44.41,11.218) scale(1.003,1.021)" x="-4.52">2</text><text transform="translate(-34.55,11.218) scale(1.003,1.021)" x="-4.52">5</text><text transform="translate(-24.69,11.218) scale(1.003,1.021)" x="-4.52">2</text><text transform="translate(-14.83,11.218) scale(1.003,1.021)" x="-4.52">1</text><text transform="translate(-4.97,11.218) scale(1.003,1.021)" x="-4.52">4</text></g>
<g transform="translate(1157.91,439.82) rotate(-45)"><text transform="translate(-98.48,11.218) scale(0.963,1.021)" x="-6.12">G</text><text transform="translate(-87.28,11.218) scale(0.921,1.021)" x="-5.41">S</text><text transform="translate(-75.75,11.218) scale(0.974,1.021)" x="-6.77">M</text><text transform="translate(-64.13,11.218) scale(1.003,1.021)" x="-4.52">2</text><text transform="translate(-54.27,11.218) scale(1.003,1.021)" x="-4.52">8</text><text transform="translate(-44.41,11.218) scale(1.003,1.021)" x="-4.52">2</text><text transform="translate(-34.55,11.218) scale(1.003,1.021)" x="-4.52">5</text><text transform="translate(-24.69,11.218) scale(1.003,1.021)" x="-4.52">2</text><text transform="translate(-14.83,11.218) scale(1.003,1.021)" x="-4.52">1</text><text transform="translate(-4.97,11.218) scale(1.003,1.021)" x="-4.52">5</text></g>
<g transform="translate(1175.77,439.82) rotate(-45)"><text transform="translate(-98.48,11.218) scale(0.963,1.021)" x="-6.12">G</text><text transform="translate(-87.28,11.218) scale(0.921,1.021)" x="-5.41">S</text><text transform="translate(-75.75,11.218) scale(0.974,1.021)" x="-6.77">M</text><text transform="translate(-64.13,11.218) scale(1.003,1.021)" x="-4.52">2</text><text transform="translate(-54.27,11.218) scale(1.003,1.021)" x="-4.52">8</text><text transform="translate(-44.41,11.218) scale(1.003,1.021)" x="-4.52">2</text><text transform="translate(-34.55,11.218) scale(1.003,1.021)" x="-4.52">5</text><text transform="translate(-24.69,11.218) scale(1.003,1.021)" x="-4.52">2</text><text transform="translate(-14.83,11.218) scale(1.003,1.021)" x="-4.52">1</text><text transform="translate(-4.97,11.218) scale(1.003,1.021)" x="-4.52">6</text></g>
<g transform="translate(1193.62,439.82) rotate(-45)"><text transform="translate(-98.48,11.218) scale(0.963,1.021)" x="-6.12">G</text><text transform="translate(-87.28,11.218) scale(0.921,1.021)" x="-5.41">S</text><text transform="translate(-75.75,11.218) scale(0.974,1.021)" x="-6.77">M</text><text transform="translate(-64.13,11.218) scale(1.003,1.021)" x="-4.52">2</text><text transform="translate(-54.27,11.218) scale(1.003,1.021)" x="-4.52">8</text><text transform="translate(-44.41,11.218) scale(1.003,1.021)" x="-4.52">2</text><text transform="translate(-34.55,11.218) scale(1.003,1.021)" x="-4.52">5</text><text transform="translate(-24.69,11.218) scale(1.003,1.021)" x="-4.52">2</text><text transform="translate(-14.83,11.218) scale(1.003,1.021)" x="-4.52">1</text><text transform="translate(-4.97,11.218) scale(1.003,1.021)" x="-4.52">7</text></g>
<g transform="translate(1211.48,439.82) rotate(-45)"><text transform="translate(-98.48,11.218) scale(0.963,1.021)" x="-6.12">G</text><text transform="translate(-87.28,11.218) scale(0.921,1.021)" x="-5.41">S</text><text transform="translate(-75.75,11.218) scale(0.974,1.021)" x="-6.77">M</text><text transform="translate(-64.13,11.218) scale(1.003,1.021)" x="-4.52">2</text><text transform="translate(-54.27,11.218) scale(1.003,1.021)" x="-4.52">8</text><text transform="translate(-44.41,11.218) scale(1.003,1.021)" x="-4.52">2</text><text transform="translate(-34.55,11.218) scale(1.003,1.021)" x="-4.52">5</text><text transform="translate(-24.69,11.218) scale(1.003,1.021)" x="-4.52">2</text><text transform="translate(-14.83,11.218) scale(1.003,1.021)" x="-4.52">1</text><text transform="translate(-4.97,11.218) scale(1.003,1.021)" x="-4.52">8</text></g>
<g transform="translate(1229.33,439.82) rotate(-45)"><text transform="translate(-98.48,11.218) scale(0.963,1.021)" x="-6.12">G</text><text transform="translate(-87.28,11.218) scale(0.921,1.021)" x="-5.41">S</text><text transform="translate(-75.75,11.218) scale(0.974,1.021)" x="-6.77">M</text><text transform="translate(-64.13,11.218) scale(1.003,1.021)" x="-4.52">2</text><text transform="translate(-54.27,11.218) scale(1.003,1.021)" x="-4.52">8</text><text transform="translate(-44.41,11.218) scale(1.003,1.021)" x="-4.52">2</text><text transform="translate(-34.55,11.218) scale(1.003,1.021)" x="-4.52">5</text><text transform="translate(-24.69,11.218) scale(1.003,1.021)" x="-4.52">2</text><text transform="translate(-14.83,11.218) scale(1.003,1.021)" x="-4.52">1</text><text transform="translate(-4.97,11.218) scale(1.003,1.021)" x="-4.52">9</text></g>
<g transform="translate(1247.19,439.82) rotate(-45)"><text transform="translate(-98.48,11.218) scale(0.963,1.021)" x="-6.12">G</text><text transform="translate(-87.28,11.218) scale(0.921,1.021)" x="-5.41">S</text><text transform="translate(-75.75,11.218) scale(0.974,1.021)" x="-6.77">M</text><text transform="translate(-64.13,11.218) scale(1.003,1.021)" x="-4.52">2</text><text transform="translate(-54.27,11.218) scale(1.003,1.021)" x="-4.52">8</text><text transform="translate(-44.41,11.218) scale(1.003,1.021)" x="-4.52">2</text><text transform="translate(-34.55,11.218) scale(1.003,1.021)" x="-4.52">5</text><text transform="translate(-24.69,11.218) scale(1.003,1.021)" x="-4.52">2</text><text transform="translate(-14.83,11.218) scale(1.003,1.021)" x="-4.52">2</text><text transform="translate(-4.97,11.218) scale(1.003,1.021)" x="-4.52">0</text></g>
<g transform="translate(1265.04,439.82) rotate(-45)"><text transform="translate(-98.48,11.218) scale(0.963,1.021)" x="-6.12">G</text><text transform="translate(-87.28,11.218) scale(0.921,1.021)" x="-5.41">S</text><text transform="translate(-75.75,11.218) scale(0.974,1.021)" x="-6.77">M</text><text transform="translate(-64.13,11.218) scale(1.003,1.021)" x="-4.52">2</text><text transform="translate(-54.27,11.218) scale(1.003,1.021)" x="-4.52">8</text><text transform="translate(-44.41,11.218) scale(1.003,1.021)" x="-4.52">2</text><text transform="translate(-34.55,11.218) scale(1.003,1.021)" x="-4.52">5</text><text transform="translate(-24.69,11.218) scale(1.003,1.021)" x="-4.52">1</text><text transform="translate(-14.83,11.218) scale(1.003,1.021)" x="-4.52">9</text><text transform="translate(-4.97,11.218) scale(1.003,1.021)" x="-4.52">7</text></g>
<g transform="translate(1282.90,439.82) rotate(-45)"><text transform="translate(-98.48,11.218) scale(0.963,1.021)" x="-6.12">G</text><text transform="translate(-87.28,11.218) scale(0.921,1.021)" x="-5.41">S</text><text transform="translate(-75.75,11.218) scale(0.974,1.021)" x="-6.77">M</text><text transform="translate(-64.13,11.218) scale(1.003,1.021)" x="-4.52">2</text><text transform="translate(-54.27,11.218) scale(1.003,1.021)" x="-4.52">8</text><text transform="translate(-44.41,11.218) scale(1.003,1.021)" x="-4.52">2</text><text transform="translate(-34.55,11.218) scale(1.003,1.021)" x="-4.52">5</text><text transform="translate(-24.69,11.218) scale(1.003,1.021)" x="-4.52">1</text><text transform="translate(-14.83,11.218) scale(1.003,1.021)" x="-4.52">9</text><text transform="translate(-4.97,11.218) scale(1.003,1.021)" x="-4.52">8</text></g>
<g transform="translate(1300.75,439.82) rotate(-45)"><text transform="translate(-98.48,11.218) scale(0.963,1.021)" x="-6.12">G</text><text transform="translate(-87.28,11.218) scale(0.921,1.021)" x="-5.41">S</text><text transform="translate(-75.75,11.218) scale(0.974,1.021)" x="-6.77">M</text><text transform="translate(-64.13,11.218) scale(1.003,1.021)" x="-4.52">2</text><text transform="translate(-54.27,11.218) scale(1.003,1.021)" x="-4.52">8</text><text transform="translate(-44.41,11.218) scale(1.003,1.021)" x="-4.52">2</text><text transform="translate(-34.55,11.218) scale(1.003,1.021)" x="-4.52">5</text><text transform="translate(-24.69,11.218) scale(1.003,1.021)" x="-4.52">1</text><text transform="translate(-14.83,11.218) scale(1.003,1.021)" x="-4.52">9</text><text transform="translate(-4.97,11.218) scale(1.003,1.021)" x="-4.52">9</text></g>
<g transform="translate(1318.61,439.82) rotate(-45)"><text transform="translate(-98.48,11.218) scale(0.963,1.021)" x="-6.12">G</text><text transform="translate(-87.28,11.218) scale(0.921,1.021)" x="-5.41">S</text><text transform="translate(-75.75,11.218) scale(0.974,1.021)" x="-6.77">M</text><text transform="translate(-64.13,11.218) scale(1.003,1.021)" x="-4.52">2</text><text transform="translate(-54.27,11.218) scale(1.003,1.021)" x="-4.52">8</text><text transform="translate(-44.41,11.218) scale(1.003,1.021)" x="-4.52">2</text><text transform="translate(-34.55,11.218) scale(1.003,1.021)" x="-4.52">5</text><text transform="translate(-24.69,11.218) scale(1.003,1.021)" x="-4.52">2</text><text transform="translate(-14.83,11.218) scale(1.003,1.021)" x="-4.52">0</text><text transform="translate(-4.97,11.218) scale(1.003,1.021)" x="-4.52">0</text></g>
<g transform="translate(1336.46,439.82) rotate(-45)"><text transform="translate(-98.48,11.218) scale(0.963,1.021)" x="-6.12">G</text><text transform="translate(-87.28,11.218) scale(0.921,1.021)" x="-5.41">S</text><text transform="translate(-75.75,11.218) scale(0.974,1.021)" x="-6.77">M</text><text transform="translate(-64.13,11.218) scale(1.003,1.021)" x="-4.52">2</text><text transform="translate(-54.27,11.218) scale(1.003,1.021)" x="-4.52">8</text><text transform="translate(-44.41,11.218) scale(1.003,1.021)" x="-4.52">2</text><text transform="translate(-34.55,11.218) scale(1.003,1.021)" x="-4.52">5</text><text transform="translate(-24.69,11.218) scale(1.003,1.021)" x="-4.52">2</text><text transform="translate(-14.83,11.218) scale(1.003,1.021)" x="-4.52">0</text><text transform="translate(-4.97,11.218) scale(1.003,1.021)" x="-4.52">1</text></g>
<g transform="translate(1354.32,439.82) rotate(-45)"><text transform="translate(-98.48,11.218) scale(0.963,1.021)" x="-6.12">G</text><text transform="translate(-87.28,11.218) scale(0.921,1.021)" x="-5.41">S</text><text transform="translate(-75.75,11.218) scale(0.974,1.021)" x="-6.77">M</text><text transform="translate(-64.13,11.218) scale(1.003,1.021)" x="-4.52">2</text><text transform="translate(-54.27,11.218) scale(1.003,1.021)" x="-4.52">8</text><text transform="translate(-44.41,11.218) scale(1.003,1.021)" x="-4.52">2</text><text transform="translate(-34.55,11.218) scale(1.003,1.021)" x="-4.52">5</text><text transform="translate(-24.69,11.218) scale(1.003,1.021)" x="-4.52">2</text><text transform="translate(-14.83,11.218) scale(1.003,1.021)" x="-4.52">0</text><text transform="translate(-4.97,11.218) scale(1.003,1.021)" x="-4.52">2</text></g>
<g transform="translate(1372.17,439.82) rotate(-45)"><text transform="translate(-98.48,11.218) scale(0.963,1.021)" x="-6.12">G</text><text transform="translate(-87.28,11.218) scale(0.921,1.021)" x="-5.41">S</text><text transform="translate(-75.75,11.218) scale(0.974,1.021)" x="-6.77">M</text><text transform="translate(-64.13,11.218) scale(1.003,1.021)" x="-4.52">2</text><text transform="translate(-54.27,11.218) scale(1.003,1.021)" x="-4.52">8</text><text transform="translate(-44.41,11.218) scale(1.003,1.021)" x="-4.52">2</text><text transform="translate(-34.55,11.218) scale(1.003,1.021)" x="-4.52">5</text><text transform="translate(-24.69,11.218) scale(1.003,1.021)" x="-4.52">2</text><text transform="translate(-14.83,11.218) scale(1.003,1.021)" x="-4.52">0</text><text transform="translate(-4.97,11.218) scale(1.003,1.021)" x="-4.52">3</text></g>
<g transform="translate(1390.03,439.82) rotate(-45)"><text transform="translate(-98.48,11.218) scale(0.963,1.021)" x="-6.12">G</text><text transform="translate(-87.28,11.218) scale(0.921,1.021)" x="-5.41">S</text><text transform="translate(-75.75,11.218) scale(0.974,1.021)" x="-6.77">M</text><text transform="translate(-64.13,11.218) scale(1.003,1.021)" x="-4.52">2</text><text transform="translate(-54.27,11.218) scale(1.003,1.021)" x="-4.52">8</text><text transform="translate(-44.41,11.218) scale(1.003,1.021)" x="-4.52">2</text><text transform="translate(-34.55,11.218) scale(1.003,1.021)" x="-4.52">5</text><text transform="translate(-24.69,11.218) scale(1.003,1.021)" x="-4.52">2</text><text transform="translate(-14.83,11.218) scale(1.003,1.021)" x="-4.52">2</text><text transform="translate(-4.97,11.218) scale(1.003,1.021)" x="-4.52">1</text></g>
<g transform="translate(1407.88,439.82) rotate(-45)"><text transform="translate(-98.48,11.218) scale(0.963,1.021)" x="-6.12">G</text><text transform="translate(-87.28,11.218) scale(0.921,1.021)" x="-5.41">S</text><text transform="translate(-75.75,11.218) scale(0.974,1.021)" x="-6.77">M</text><text transform="translate(-64.13,11.218) scale(1.003,1.021)" x="-4.52">2</text><text transform="translate(-54.27,11.218) scale(1.003,1.021)" x="-4.52">8</text><text transform="translate(-44.41,11.218) scale(1.003,1.021)" x="-4.52">2</text><text transform="translate(-34.55,11.218) scale(1.003,1.021)" x="-4.52">5</text><text transform="translate(-24.69,11.218) scale(1.003,1.021)" x="-4.52">2</text><text transform="translate(-14.83,11.218) scale(1.003,1.021)" x="-4.52">2</text><text transform="translate(-4.97,11.218) scale(1.003,1.021)" x="-4.52">2</text></g>
<g transform="translate(1425.74,439.82) rotate(-45)"><text transform="translate(-98.48,11.218) scale(0.963,1.021)" x="-6.12">G</text><text transform="translate(-87.28,11.218) scale(0.921,1.021)" x="-5.41">S</text><text transform="translate(-75.75,11.218) scale(0.974,1.021)" x="-6.77">M</text><text transform="translate(-64.13,11.218) scale(1.003,1.021)" x="-4.52">2</text><text transform="translate(-54.27,11.218) scale(1.003,1.021)" x="-4.52">8</text><text transform="translate(-44.41,11.218) scale(1.003,1.021)" x="-4.52">2</text><text transform="translate(-34.55,11.218) scale(1.003,1.021)" x="-4.52">5</text><text transform="translate(-24.69,11.218) scale(1.003,1.021)" x="-4.52">2</text><text transform="translate(-14.83,11.218) scale(1.003,1.021)" x="-4.52">2</text><text transform="translate(-4.97,11.218) scale(1.003,1.021)" x="-4.52">3</text></g>
<g transform="translate(1443.59,439.82) rotate(-45)"><text transform="translate(-98.48,11.218) scale(0.963,1.021)" x="-6.12">G</text><text transform="translate(-87.28,11.218) scale(0.921,1.021)" x="-5.41">S</text><text transform="translate(-75.75,11.218) scale(0.974,1.021)" x="-6.77">M</text><text transform="translate(-64.13,11.218) scale(1.003,1.021)" x="-4.52">2</text><text transform="translate(-54.27,11.218) scale(1.003,1.021)" x="-4.52">8</text><text transform="translate(-44.41,11.218) scale(1.003,1.021)" x="-4.52">2</text><text transform="translate(-34.55,11.218) scale(1.003,1.021)" x="-4.52">5</text><text transform="translate(-24.69,11.218) scale(1.003,1.021)" x="-4.52">2</text><text transform="translate(-14.83,11.218) scale(1.003,1.021)" x="-4.52">2</text><text transform="translate(-4.97,11.218) scale(1.003,1.021)" x="-4.52">4</text></g>
<g transform="translate(1461.45,439.82) rotate(-45)"><text transform="translate(-98.48,11.218) scale(0.963,1.021)" x="-6.12">G</text><text transform="translate(-87.28,11.218) scale(0.921,1.021)" x="-5.41">S</text><text transform="translate(-75.75,11.218) scale(0.974,1.021)" x="-6.77">M</text><text transform="translate(-64.13,11.218) scale(1.003,1.021)" x="-4.52">2</text><text transform="translate(-54.27,11.218) scale(1.003,1.021)" x="-4.52">8</text><text transform="translate(-44.41,11.218) scale(1.003,1.021)" x="-4.52">2</text><text transform="translate(-34.55,11.218) scale(1.003,1.021)" x="-4.52">5</text><text transform="translate(-24.69,11.218) scale(1.003,1.021)" x="-4.52">2</text><text transform="translate(-14.83,11.218) scale(1.003,1.021)" x="-4.52">2</text><text transform="translate(-4.97,11.218) scale(1.003,1.021)" x="-4.52">5</text></g>
<g transform="translate(1479.30,439.82) rotate(-45)"><text transform="translate(-98.48,11.218) scale(0.963,1.021)" x="-6.12">G</text><text transform="translate(-87.28,11.218) scale(0.921,1.021)" x="-5.41">S</text><text transform="translate(-75.75,11.218) scale(0.974,1.021)" x="-6.77">M</text><text transform="translate(-64.13,11.218) scale(1.003,1.021)" x="-4.52">2</text><text transform="translate(-54.27,11.218) scale(1.003,1.021)" x="-4.52">8</text><text transform="translate(-44.41,11.218) scale(1.003,1.021)" x="-4.52">2</text><text transform="translate(-34.55,11.218) scale(1.003,1.021)" x="-4.52">5</text><text transform="translate(-24.69,11.218) scale(1.003,1.021)" x="-4.52">2</text><text transform="translate(-14.83,11.218) scale(1.003,1.021)" x="-4.52">2</text><text transform="translate(-4.97,11.218) scale(1.003,1.021)" x="-4.52">6</text></g>
<g transform="translate(1497.16,439.82) rotate(-45)"><text transform="translate(-98.48,11.218) scale(0.963,1.021)" x="-6.12">G</text><text transform="translate(-87.28,11.218) scale(0.921,1.021)" x="-5.41">S</text><text transform="translate(-75.75,11.218) scale(0.974,1.021)" x="-6.77">M</text><text transform="translate(-64.13,11.218) scale(1.003,1.021)" x="-4.52">2</text><text transform="translate(-54.27,11.218) scale(1.003,1.021)" x="-4.52">8</text><text transform="translate(-44.41,11.218) scale(1.003,1.021)" x="-4.52">2</text><text transform="translate(-34.55,11.218) scale(1.003,1.021)" x="-4.52">5</text><text transform="translate(-24.69,11.218) scale(1.003,1.021)" x="-4.52">2</text><text transform="translate(-14.83,11.218) scale(1.003,1.021)" x="-4.52">2</text><text transform="translate(-4.97,11.218) scale(1.003,1.021)" x="-4.52">7</text></g>
<g transform="translate(1515.01,439.82) rotate(-45)"><text transform="translate(-98.48,11.218) scale(0.963,1.021)" x="-6.12">G</text><text transform="translate(-87.28,11.218) scale(0.921,1.021)" x="-5.41">S</text><text transform="translate(-75.75,11.218) scale(0.974,1.021)" x="-6.77">M</text><text transform="translate(-64.13,11.218) scale(1.003,1.021)" x="-4.52">2</text><text transform="translate(-54.27,11.218) scale(1.003,1.021)" x="-4.52">8</text><text transform="translate(-44.41,11.218) scale(1.003,1.021)" x="-4.52">2</text><text transform="translate(-34.55,11.218) scale(1.003,1.021)" x="-4.52">5</text><text transform="translate(-24.69,11.218) scale(1.003,1.021)" x="-4.52">2</text><text transform="translate(-14.83,11.218) scale(1.003,1.021)" x="-4.52">2</text><text transform="translate(-4.97,11.218) scale(1.003,1.021)" x="-4.52">8</text></g>
<g transform="translate(1532.87,439.82) rotate(-45)"><text transform="translate(-98.48,11.218) scale(0.963,1.021)" x="-6.12">G</text><text transform="translate(-87.28,11.218) scale(0.921,1.021)" x="-5.41">S</text><text transform="translate(-75.75,11.218) scale(0.974,1.021)" x="-6.77">M</text><text transform="translate(-64.13,11.218) scale(1.003,1.021)" x="-4.52">2</text><text transform="translate(-54.27,11.218) scale(1.003,1.021)" x="-4.52">8</text><text transform="translate(-44.41,11.218) scale(1.003,1.021)" x="-4.52">2</text><text transform="translate(-34.55,11.218) scale(1.003,1.021)" x="-4.52">5</text><text transform="translate(-24.69,11.218) scale(1.003,1.021)" x="-4.52">2</text><text transform="translate(-14.83,11.218) scale(1.003,1.021)" x="-4.52">2</text><text transform="translate(-4.97,11.218) scale(1.003,1.021)" x="-4.52">9</text></g>
</g>
<text transform="translate(71.8,246.0) rotate(-90) scale(0.954,1)" text-anchor="middle" font-size="21.0" fill="#000">Methylation Level (beta value)</text>
</svg></body></html>
